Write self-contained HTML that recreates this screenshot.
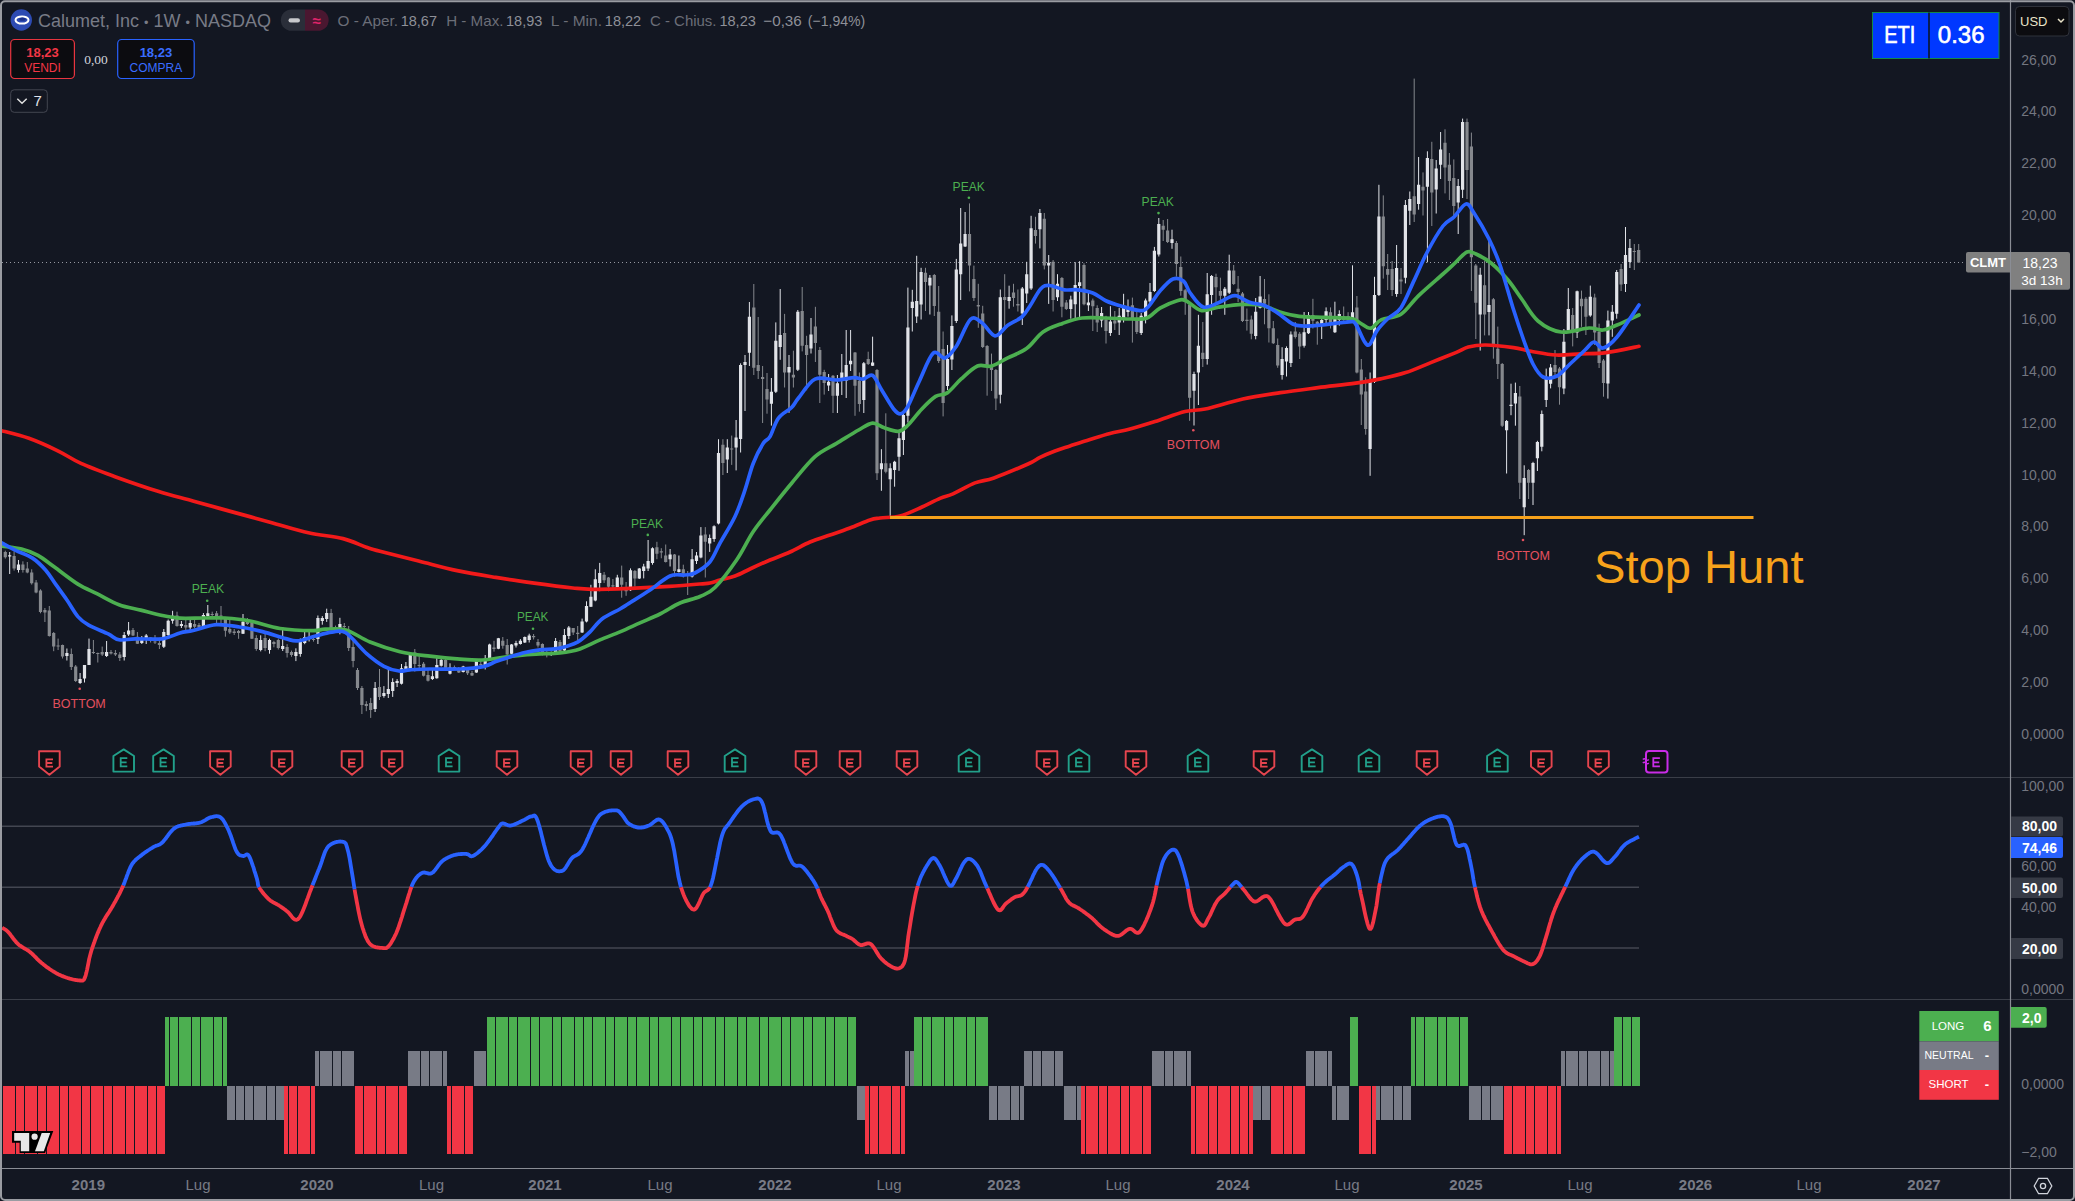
<!DOCTYPE html>
<html><head><meta charset="utf-8"><title>CLMT chart</title>
<style>
html,body{margin:0;padding:0;background:#131722;}
body{width:2075px;height:1201px;overflow:hidden;position:relative;font-family:"Liberation Sans", sans-serif;}
svg{position:absolute;left:0;top:0;display:block;}
text{font-family:"Liberation Sans", sans-serif;}
</style></head><body>
<svg width="2075" height="1201" viewBox="0 0 2075 1201">
<rect x="0" y="0" width="2075" height="1201" fill="#131722"/>

<defs><clipPath id="cp"><rect x="2" y="3" width="2008" height="774"/></clipPath><clipPath id="co"><rect x="2" y="778" width="2008" height="221"/></clipPath><clipPath id="ch"><rect x="2" y="1000" width="2008" height="168"/></clipPath></defs>
<line x1="2" y1="262.5" x2="1966" y2="262.5" stroke="#9598a1" stroke-width="1" stroke-dasharray="1,3"/>
<path d="M39.1,751.3 h20.6 v15.2 l-10.3,8.2 l-10.3,-8.2 Z" fill="#0f0f13" stroke="#e5454f" stroke-width="1.9" stroke-linejoin="round"/>
<path d="M47.3,759.4 H53.0 M46.4,758.5 V766.6 H53.0 M46.4,763.0 H52.3" fill="none" stroke="#e5454f" stroke-width="1.8"/>
<path d="M113.4,771.6 h20.6 v-15.6 l-10.3,-6.6 l-10.3,6.6 Z" fill="#0f0f13" stroke="#22a08a" stroke-width="1.9" stroke-linejoin="round"/>
<path d="M121.6,758.2 H127.3 M120.7,757.3 V766.4 H127.3 M120.7,762.3 H126.6" fill="none" stroke="#22a08a" stroke-width="1.8"/>
<path d="M153.2,771.6 h20.6 v-15.6 l-10.3,-6.6 l-10.3,6.6 Z" fill="#0f0f13" stroke="#22a08a" stroke-width="1.9" stroke-linejoin="round"/>
<path d="M161.4,758.2 H167.1 M160.5,757.3 V766.4 H167.1 M160.5,762.3 H166.4" fill="none" stroke="#22a08a" stroke-width="1.8"/>
<path d="M210.1,751.3 h20.6 v15.2 l-10.3,8.2 l-10.3,-8.2 Z" fill="#0f0f13" stroke="#e5454f" stroke-width="1.9" stroke-linejoin="round"/>
<path d="M218.3,759.4 H224.0 M217.4,758.5 V766.6 H224.0 M217.4,763.0 H223.3" fill="none" stroke="#e5454f" stroke-width="1.8"/>
<path d="M271.7,751.3 h20.6 v15.2 l-10.3,8.2 l-10.3,-8.2 Z" fill="#0f0f13" stroke="#e5454f" stroke-width="1.9" stroke-linejoin="round"/>
<path d="M279.9,759.4 H285.6 M279.0,758.5 V766.6 H285.6 M279.0,763.0 H284.9" fill="none" stroke="#e5454f" stroke-width="1.8"/>
<path d="M341.7,751.3 h20.6 v15.2 l-10.3,8.2 l-10.3,-8.2 Z" fill="#0f0f13" stroke="#e5454f" stroke-width="1.9" stroke-linejoin="round"/>
<path d="M349.9,759.4 H355.6 M349.0,758.5 V766.6 H355.6 M349.0,763.0 H354.9" fill="none" stroke="#e5454f" stroke-width="1.8"/>
<path d="M381.7,751.3 h20.6 v15.2 l-10.3,8.2 l-10.3,-8.2 Z" fill="#0f0f13" stroke="#e5454f" stroke-width="1.9" stroke-linejoin="round"/>
<path d="M389.9,759.4 H395.6 M389.0,758.5 V766.6 H395.6 M389.0,763.0 H394.9" fill="none" stroke="#e5454f" stroke-width="1.8"/>
<path d="M438.7,771.6 h20.6 v-15.6 l-10.3,-6.6 l-10.3,6.6 Z" fill="#0f0f13" stroke="#22a08a" stroke-width="1.9" stroke-linejoin="round"/>
<path d="M446.9,758.2 H452.6 M446.0,757.3 V766.4 H452.6 M446.0,762.3 H451.9" fill="none" stroke="#22a08a" stroke-width="1.8"/>
<path d="M496.7,751.3 h20.6 v15.2 l-10.3,8.2 l-10.3,-8.2 Z" fill="#0f0f13" stroke="#e5454f" stroke-width="1.9" stroke-linejoin="round"/>
<path d="M504.9,759.4 H510.6 M504.0,758.5 V766.6 H510.6 M504.0,763.0 H509.9" fill="none" stroke="#e5454f" stroke-width="1.8"/>
<path d="M570.7,751.3 h20.6 v15.2 l-10.3,8.2 l-10.3,-8.2 Z" fill="#0f0f13" stroke="#e5454f" stroke-width="1.9" stroke-linejoin="round"/>
<path d="M578.9,759.4 H584.6 M578.0,758.5 V766.6 H584.6 M578.0,763.0 H583.9" fill="none" stroke="#e5454f" stroke-width="1.8"/>
<path d="M610.7,751.3 h20.6 v15.2 l-10.3,8.2 l-10.3,-8.2 Z" fill="#0f0f13" stroke="#e5454f" stroke-width="1.9" stroke-linejoin="round"/>
<path d="M618.9,759.4 H624.6 M618.0,758.5 V766.6 H624.6 M618.0,763.0 H623.9" fill="none" stroke="#e5454f" stroke-width="1.8"/>
<path d="M667.7,751.3 h20.6 v15.2 l-10.3,8.2 l-10.3,-8.2 Z" fill="#0f0f13" stroke="#e5454f" stroke-width="1.9" stroke-linejoin="round"/>
<path d="M675.9,759.4 H681.6 M675.0,758.5 V766.6 H681.6 M675.0,763.0 H680.9" fill="none" stroke="#e5454f" stroke-width="1.8"/>
<path d="M724.7,771.6 h20.6 v-15.6 l-10.3,-6.6 l-10.3,6.6 Z" fill="#0f0f13" stroke="#22a08a" stroke-width="1.9" stroke-linejoin="round"/>
<path d="M732.9,758.2 H738.6 M732.0,757.3 V766.4 H738.6 M732.0,762.3 H737.9" fill="none" stroke="#22a08a" stroke-width="1.8"/>
<path d="M795.7,751.3 h20.6 v15.2 l-10.3,8.2 l-10.3,-8.2 Z" fill="#0f0f13" stroke="#e5454f" stroke-width="1.9" stroke-linejoin="round"/>
<path d="M803.9,759.4 H809.6 M803.0,758.5 V766.6 H809.6 M803.0,763.0 H808.9" fill="none" stroke="#e5454f" stroke-width="1.8"/>
<path d="M839.7,751.3 h20.6 v15.2 l-10.3,8.2 l-10.3,-8.2 Z" fill="#0f0f13" stroke="#e5454f" stroke-width="1.9" stroke-linejoin="round"/>
<path d="M847.9,759.4 H853.6 M847.0,758.5 V766.6 H853.6 M847.0,763.0 H852.9" fill="none" stroke="#e5454f" stroke-width="1.8"/>
<path d="M896.7,751.3 h20.6 v15.2 l-10.3,8.2 l-10.3,-8.2 Z" fill="#0f0f13" stroke="#e5454f" stroke-width="1.9" stroke-linejoin="round"/>
<path d="M904.9,759.4 H910.6 M904.0,758.5 V766.6 H910.6 M904.0,763.0 H909.9" fill="none" stroke="#e5454f" stroke-width="1.8"/>
<path d="M958.7,771.6 h20.6 v-15.6 l-10.3,-6.6 l-10.3,6.6 Z" fill="#0f0f13" stroke="#22a08a" stroke-width="1.9" stroke-linejoin="round"/>
<path d="M966.9,758.2 H972.6 M966.0,757.3 V766.4 H972.6 M966.0,762.3 H971.9" fill="none" stroke="#22a08a" stroke-width="1.8"/>
<path d="M1036.7,751.3 h20.6 v15.2 l-10.3,8.2 l-10.3,-8.2 Z" fill="#0f0f13" stroke="#e5454f" stroke-width="1.9" stroke-linejoin="round"/>
<path d="M1044.9,759.4 H1050.6 M1044.0,758.5 V766.6 H1050.6 M1044.0,763.0 H1049.9" fill="none" stroke="#e5454f" stroke-width="1.8"/>
<path d="M1068.7,771.6 h20.6 v-15.6 l-10.3,-6.6 l-10.3,6.6 Z" fill="#0f0f13" stroke="#22a08a" stroke-width="1.9" stroke-linejoin="round"/>
<path d="M1076.9,758.2 H1082.6 M1076.0,757.3 V766.4 H1082.6 M1076.0,762.3 H1081.9" fill="none" stroke="#22a08a" stroke-width="1.8"/>
<path d="M1125.7,751.3 h20.6 v15.2 l-10.3,8.2 l-10.3,-8.2 Z" fill="#0f0f13" stroke="#e5454f" stroke-width="1.9" stroke-linejoin="round"/>
<path d="M1133.9,759.4 H1139.6 M1133.0,758.5 V766.6 H1139.6 M1133.0,763.0 H1138.9" fill="none" stroke="#e5454f" stroke-width="1.8"/>
<path d="M1187.7,771.6 h20.6 v-15.6 l-10.3,-6.6 l-10.3,6.6 Z" fill="#0f0f13" stroke="#22a08a" stroke-width="1.9" stroke-linejoin="round"/>
<path d="M1195.9,758.2 H1201.6 M1195.0,757.3 V766.4 H1201.6 M1195.0,762.3 H1200.9" fill="none" stroke="#22a08a" stroke-width="1.8"/>
<path d="M1253.7,751.3 h20.6 v15.2 l-10.3,8.2 l-10.3,-8.2 Z" fill="#0f0f13" stroke="#e5454f" stroke-width="1.9" stroke-linejoin="round"/>
<path d="M1261.9,759.4 H1267.6 M1261.0,758.5 V766.6 H1267.6 M1261.0,763.0 H1266.9" fill="none" stroke="#e5454f" stroke-width="1.8"/>
<path d="M1301.7,771.6 h20.6 v-15.6 l-10.3,-6.6 l-10.3,6.6 Z" fill="#0f0f13" stroke="#22a08a" stroke-width="1.9" stroke-linejoin="round"/>
<path d="M1309.9,758.2 H1315.6 M1309.0,757.3 V766.4 H1315.6 M1309.0,762.3 H1314.9" fill="none" stroke="#22a08a" stroke-width="1.8"/>
<path d="M1358.7,771.6 h20.6 v-15.6 l-10.3,-6.6 l-10.3,6.6 Z" fill="#0f0f13" stroke="#22a08a" stroke-width="1.9" stroke-linejoin="round"/>
<path d="M1366.9,758.2 H1372.6 M1366.0,757.3 V766.4 H1372.6 M1366.0,762.3 H1371.9" fill="none" stroke="#22a08a" stroke-width="1.8"/>
<path d="M1416.7,751.3 h20.6 v15.2 l-10.3,8.2 l-10.3,-8.2 Z" fill="#0f0f13" stroke="#e5454f" stroke-width="1.9" stroke-linejoin="round"/>
<path d="M1424.9,759.4 H1430.6 M1424.0,758.5 V766.6 H1430.6 M1424.0,763.0 H1429.9" fill="none" stroke="#e5454f" stroke-width="1.8"/>
<path d="M1487.1,771.6 h20.6 v-15.6 l-10.3,-6.6 l-10.3,6.6 Z" fill="#0f0f13" stroke="#22a08a" stroke-width="1.9" stroke-linejoin="round"/>
<path d="M1495.3,758.2 H1501.0 M1494.4,757.3 V766.4 H1501.0 M1494.4,762.3 H1500.3" fill="none" stroke="#22a08a" stroke-width="1.8"/>
<path d="M1531.0,751.3 h20.6 v15.2 l-10.3,8.2 l-10.3,-8.2 Z" fill="#0f0f13" stroke="#e5454f" stroke-width="1.9" stroke-linejoin="round"/>
<path d="M1539.2,759.4 H1544.9 M1538.3,758.5 V766.6 H1544.9 M1538.3,763.0 H1544.2" fill="none" stroke="#e5454f" stroke-width="1.8"/>
<path d="M1588.2,751.3 h20.6 v15.2 l-10.3,8.2 l-10.3,-8.2 Z" fill="#0f0f13" stroke="#e5454f" stroke-width="1.9" stroke-linejoin="round"/>
<path d="M1596.4,759.4 H1602.1 M1595.5,758.5 V766.6 H1602.1 M1595.5,763.0 H1601.4" fill="none" stroke="#e5454f" stroke-width="1.8"/>
<rect x="1646.0" y="751" width="21.5" height="21.5" rx="3" fill="#0f0f13" stroke="#c92ce6" stroke-width="2"/>
<path d="M1642.8,759.6 q1.5,-1.5 3,0 t3,0 M1642.8,763 q1.5,-1.5 3,0 t3,0" fill="none" stroke="#c92ce6" stroke-width="1.4"/>
<path d="M1654.2,758.2 H1659.9 M1653.3,757.3 V766.4 H1659.9 M1653.3,762.3 H1659.2" fill="none" stroke="#c92ce6" stroke-width="1.8"/>
<g clip-path="url(#cp)">
<path d="M5.3,550.7V558.6M14.1,551.3V570.6M22.9,561.3V572.6M27.3,562.0V573.3M31.7,569.3V584.6M36.1,580.0V593.3M40.5,589.3V613.3M44.9,608.0V622.0M49.3,606.0V636.6M53.7,632.0V651.2M58.1,638.6V650.0M62.5,644.6V658.5M71.3,648.5V670.0M75.7,665.0V682.0M93.4,640.0V654.0M97.8,652.6V662.5M102.2,646.6V656.0M111.0,650.0V654.5M115.4,650.0V656.0M119.8,652.0V661.0M133.0,628.0V636.0M137.4,632.0V644.0M150.6,637.5V642.5M155.0,635.0V644.0M159.4,641.0V649.0M177.0,611.7V626.7M185.8,619.0V630.5M194.6,620.0V628.5M199.0,623.0V628.5M212.2,611.7V616.7M216.6,611.0V623.3M221.0,606.0V625.0M225.4,618.0V636.7M229.8,620.0V634.0M234.2,629.0V635.0M238.6,630.0V638.8M247.4,618.0V625.0M251.9,620.0V639.0M256.3,635.2V650.8M265.1,633.8V651.2M273.9,640.8V647.3M278.3,638.6V649.5M287.1,644.2V657.5M291.5,650.6V656.8M313.5,637.3V641.6M331.1,608.9V629.4M335.5,625.6V630.4M344.3,623.0V631.8M348.7,626.0V651.0M353.1,639.9V667.3M357.5,668.0V690.0M361.9,686.0V714.0M366.3,701.2V711.2M370.7,697.9V717.9M379.5,669.0V700.0M414.8,649.0V671.6M419.2,655.0V669.0M423.6,662.0V676.5M428.0,670.0V681.5M445.6,658.7V670.8M454.4,665.5V669.5M458.8,667.0V673.0M467.6,667.0V675.0M472.0,671.0V676.0M480.8,659.0V665.8M494.0,640.8V651.6M502.8,637.0V648.7M507.2,639.0V664.5M533.6,634.0V639.5M538.0,639.0V647.5M542.4,643.3V655.4M546.8,648.0V657.4M560.0,640.0V652.0M573.2,628.0V635.0M577.7,626.0V640.0M604.1,572.0V583.0M608.5,577.0V591.2M612.9,579.0V590.0M621.7,565.6V597.7M626.1,582.0V595.8M634.9,570.0V586.7M656.9,541.8V559.2M661.3,548.2V558.3M665.7,544.5V562.5M674.5,554.0V576.6M683.3,564.7V577.5M687.7,571.0V595.0M705.3,527.1V577.5M722.9,439.2V475.0M731.7,435.6V464.9M753.8,284.0V375.0M758.2,317.0V379.0M762.6,366.0V423.0M767.0,373.0V413.7M784.6,313.9V387.5M793.4,350.7V387.5M802.2,287.0V351.4M806.6,335.8V390.3M815.4,306.8V362.0M819.8,347.0V403.0M824.2,369.8V394.6M833.0,375.0V413.0M855.0,352.0V415.8M859.4,372.5V411.7M868.2,351.7V365.0M877.0,369.0V480.0M885.8,413.3V473.3M925.5,267.8V311.0M934.3,274.0V316.0M938.7,286.0V363.0M943.1,331.5V416.4M969.5,203.4V291.4M973.9,265.6V301.0M978.3,283.8V327.8M982.7,305.8V348.0M987.1,345.0V395.7M991.5,353.6V391.0M995.9,369.0V410.0M1004.7,274.2V325.9M1013.5,283.8V306.7M1017.9,289.5V311.5M1035.5,216.8V243.6M1044.3,213.0V269.4M1053.1,260.0V311.5M1061.9,277.0V317.3M1066.3,300.0V310.0M1084.0,263.2V305.3M1092.8,298.6V331.0M1097.2,305.3V332.0M1106.0,315.8V343.5M1114.8,311.0V330.0M1132.4,297.6V342.6M1136.8,310.0V334.0M1163.2,220.0V241.0M1167.6,219.0V243.0M1176.4,241.0V276.6M1180.8,256.5V295.7M1185.2,289.0V314.8M1189.6,303.0V420.8M1202.8,322.0V367.0M1216.0,273.7V302.0M1220.4,277.7V301.4M1233.7,265.0V285.0M1238.1,276.0V302.0M1242.5,292.0V322.0M1246.9,308.5V330.6M1251.3,315.6V339.3M1264.5,279.0V324.3M1268.9,294.3V342.5M1273.3,321.0V344.0M1277.7,338.5V367.8M1295.3,322.0V338.5M1299.7,332.0V359.0M1312.9,298.8V328.5M1317.3,321.0V344.7M1330.5,307.4V328.5M1343.7,306.5V320.8M1348.1,312.2V321.8M1356.9,296.0V373.4M1361.3,359.0V425.0M1365.7,377.3V434.7M1383.3,195.4V278.6M1387.7,254.0V290.0M1392.1,261.0V296.0M1401.0,268.0V294.0M1414.2,78.6V222.0M1423.0,172.4V215.5M1431.8,141.8V226.0M1445.0,129.3V193.4M1449.4,153.0V200.0M1453.8,159.4V216.6M1467.0,118.6V199.0M1471.4,132.6V291.0M1475.8,264.0V339.0M1484.6,260.8V335.4M1493.4,298.0V358.7M1497.8,326.6V379.0M1502.2,363.0V427.0M1519.8,386.0V499.0M1528.6,469.0V499.0M1555.0,350.0V376.7M1559.5,367.0V404.7M1572.7,308.0V346.4M1581.5,290.6V326.8M1585.9,297.0V335.0M1594.7,293.7V345.0M1599.1,323.7V368.0M1603.5,359.0V396.7M1621.1,264.0V291.0M1634.3,244.0V270.0M1638.7,244.0V263.0" stroke="#85888d" stroke-width="1" fill="none"/>
<path d="M3.7,552.0h3.2V557.3h-3.2ZM12.5,556.0h3.2V568.6h-3.2ZM21.3,564.6h3.2V570.0h-3.2ZM25.7,568.6h3.2V572.6h-3.2ZM30.1,572.6h3.2V583.3h-3.2ZM34.5,582.6h3.2V592.6h-3.2ZM38.9,590.6h3.2V612.0h-3.2ZM43.3,610.0h3.2V612.6h-3.2ZM47.7,610.6h3.2V636.0h-3.2ZM52.1,633.0h3.2V646.6h-3.2ZM56.5,645.4h3.2V646.6h-3.2ZM60.9,645.0h3.2V656.5h-3.2ZM69.7,654.0h3.2V667.0h-3.2ZM74.1,666.5h3.2V681.0h-3.2ZM91.8,651.9h3.2V653.1h-3.2ZM96.2,652.9h3.2V654.1h-3.2ZM100.6,652.0h3.2V654.5h-3.2ZM109.4,652.0h3.2V653.5h-3.2ZM113.8,653.0h3.2V654.5h-3.2ZM118.2,654.5h3.2V658.0h-3.2ZM131.4,630.0h3.2V635.4h-3.2ZM135.8,636.7h3.2V643.7h-3.2ZM149.0,637.5h3.2V640.8h-3.2ZM153.4,641.4h3.2V642.6h-3.2ZM157.8,643.0h3.2V645.0h-3.2ZM175.4,615.4h3.2V626.0h-3.2ZM184.2,625.0h3.2V627.5h-3.2ZM193.0,624.0h3.2V626.7h-3.2ZM197.4,625.0h3.2V627.5h-3.2ZM210.6,613.9h3.2V615.1h-3.2ZM215.0,613.3h3.2V616.0h-3.2ZM219.4,615.4h3.2V616.6h-3.2ZM223.8,618.3h3.2V630.8h-3.2ZM228.2,629.0h3.2V632.5h-3.2ZM232.6,631.5h3.2V633.0h-3.2ZM237.0,631.0h3.2V633.0h-3.2ZM245.8,619.0h3.2V624.0h-3.2ZM250.3,622.5h3.2V638.8h-3.2ZM254.7,638.0h3.2V649.0h-3.2ZM263.5,638.0h3.2V648.0h-3.2ZM272.3,642.0h3.2V644.0h-3.2ZM276.7,640.0h3.2V648.0h-3.2ZM285.5,647.0h3.2V653.0h-3.2ZM289.9,652.0h3.2V655.0h-3.2ZM311.9,638.9h3.2V640.1h-3.2ZM329.5,613.0h3.2V628.0h-3.2ZM333.9,626.9h3.2V628.1h-3.2ZM342.7,625.9h3.2V627.1h-3.2ZM347.1,630.0h3.2V648.0h-3.2ZM351.5,647.0h3.2V661.0h-3.2ZM355.9,670.0h3.2V688.0h-3.2ZM360.3,688.0h3.2V705.0h-3.2ZM364.7,704.0h3.2V706.0h-3.2ZM369.1,703.0h3.2V710.0h-3.2ZM377.9,687.0h3.2V697.0h-3.2ZM413.2,652.5h3.2V664.1h-3.2ZM417.6,664.9h3.2V666.1h-3.2ZM422.0,663.7h3.2V675.8h-3.2ZM426.4,675.0h3.2V680.8h-3.2ZM444.0,660.0h3.2V670.3h-3.2ZM452.8,667.0h3.2V669.0h-3.2ZM457.2,667.9h3.2V672.4h-3.2ZM466.0,668.3h3.2V673.3h-3.2ZM470.4,672.9h3.2V675.4h-3.2ZM479.2,663.9h3.2V665.1h-3.2ZM492.4,647.5h3.2V649.1h-3.2ZM501.2,640.8h3.2V645.8h-3.2ZM505.6,645.0h3.2V654.5h-3.2ZM532.0,636.0h3.2V637.2h-3.2ZM536.4,642.0h3.2V645.4h-3.2ZM540.8,644.1h3.2V655.0h-3.2ZM545.2,651.9h3.2V653.1h-3.2ZM558.4,641.9h3.2V650.9h-3.2ZM571.6,628.0h3.2V632.5h-3.2ZM576.1,632.8h3.2V634.0h-3.2ZM602.5,574.8h3.2V580.3h-3.2ZM606.9,577.5h3.2V586.7h-3.2ZM611.3,585.2h3.2V586.4h-3.2ZM620.1,577.5h3.2V584.8h-3.2ZM624.5,588.5h3.2V591.2h-3.2ZM633.3,571.1h3.2V578.4h-3.2ZM655.3,547.3h3.2V553.7h-3.2ZM659.7,551.3h3.2V552.5h-3.2ZM664.1,555.5h3.2V562.0h-3.2ZM672.9,554.6h3.2V571.0h-3.2ZM681.7,569.3h3.2V573.8h-3.2ZM686.1,574.2h3.2V575.4h-3.2ZM703.7,534.5h3.2V541.8h-3.2ZM721.3,444.7h3.2V463.0h-3.2ZM730.1,448.4h3.2V449.6h-3.2ZM752.2,307.5h3.2V367.7h-3.2ZM756.6,365.0h3.2V371.0h-3.2ZM761.0,377.0h3.2V379.0h-3.2ZM765.4,389.0h3.2V399.6h-3.2ZM783.0,333.0h3.2V372.6h-3.2ZM791.8,374.7h3.2V377.6h-3.2ZM800.6,311.0h3.2V345.7h-3.2ZM805.0,345.0h3.2V355.0h-3.2ZM813.8,326.6h3.2V342.9h-3.2ZM818.2,350.0h3.2V374.7h-3.2ZM822.6,372.0h3.2V383.0h-3.2ZM831.4,375.8h3.2V395.8h-3.2ZM853.4,352.5h3.2V385.8h-3.2ZM857.8,380.8h3.2V404.0h-3.2ZM866.6,359.0h3.2V364.0h-3.2ZM875.4,370.0h3.2V473.3h-3.2ZM884.2,463.3h3.2V471.7h-3.2ZM923.9,272.8h3.2V282.0h-3.2ZM932.7,275.0h3.2V306.0h-3.2ZM937.1,311.7h3.2V361.0h-3.2ZM941.5,349.0h3.2V403.0h-3.2ZM967.9,234.0h3.2V265.6h-3.2ZM972.3,279.0h3.2V298.0h-3.2ZM976.7,305.0h3.2V306.5h-3.2ZM981.1,313.4h3.2V347.0h-3.2ZM985.5,346.0h3.2V367.0h-3.2ZM989.9,366.0h3.2V370.0h-3.2ZM994.3,370.0h3.2V398.6h-3.2ZM1003.1,297.0h3.2V300.0h-3.2ZM1011.9,292.4h3.2V298.0h-3.2ZM1016.3,304.0h3.2V305.5h-3.2ZM1033.9,230.0h3.2V236.0h-3.2ZM1042.7,218.7h3.2V265.6h-3.2ZM1051.5,261.8h3.2V300.0h-3.2ZM1060.3,278.0h3.2V306.7h-3.2ZM1064.7,302.4h3.2V309.0h-3.2ZM1082.4,265.0h3.2V304.3h-3.2ZM1091.2,300.5h3.2V306.2h-3.2ZM1095.6,308.0h3.2V322.5h-3.2ZM1104.4,319.6h3.2V331.0h-3.2ZM1113.2,320.6h3.2V323.4h-3.2ZM1130.8,305.3h3.2V319.6h-3.2ZM1135.2,319.6h3.2V332.0h-3.2ZM1161.6,225.8h3.2V229.7h-3.2ZM1166.0,230.6h3.2V242.0h-3.2ZM1174.8,243.0h3.2V264.0h-3.2ZM1179.2,267.0h3.2V291.0h-3.2ZM1183.6,290.3h3.2V302.0h-3.2ZM1188.0,304.5h3.2V397.8h-3.2ZM1201.2,352.8h3.2V359.0h-3.2ZM1214.4,276.9h3.2V287.2h-3.2ZM1218.8,291.0h3.2V295.8h-3.2ZM1232.1,270.6h3.2V284.0h-3.2ZM1236.5,288.7h3.2V292.0h-3.2ZM1240.9,293.5h3.2V321.0h-3.2ZM1245.3,319.8h3.2V321.0h-3.2ZM1249.7,319.6h3.2V333.8h-3.2ZM1262.9,299.0h3.2V303.8h-3.2ZM1267.3,310.0h3.2V328.3h-3.2ZM1271.7,328.3h3.2V343.3h-3.2ZM1276.1,345.0h3.2V365.4h-3.2ZM1293.7,331.4h3.2V337.0h-3.2ZM1298.1,333.8h3.2V346.4h-3.2ZM1311.3,315.0h3.2V320.8h-3.2ZM1315.7,321.8h3.2V324.6h-3.2ZM1328.9,312.2h3.2V324.6h-3.2ZM1342.1,316.0h3.2V320.0h-3.2ZM1346.5,316.0h3.2V320.8h-3.2ZM1355.3,307.4h3.2V372.5h-3.2ZM1359.7,369.6h3.2V394.5h-3.2ZM1364.1,391.6h3.2V429.0h-3.2ZM1381.7,216.4h3.2V266.2h-3.2ZM1386.1,269.0h3.2V274.8h-3.2ZM1390.5,269.0h3.2V290.0h-3.2ZM1399.4,279.5h3.2V281.5h-3.2ZM1412.6,196.3h3.2V214.5h-3.2ZM1421.4,186.7h3.2V190.6h-3.2ZM1430.2,159.0h3.2V192.5h-3.2ZM1443.4,142.7h3.2V167.6h-3.2ZM1447.8,164.7h3.2V181.0h-3.2ZM1452.2,178.0h3.2V206.0h-3.2ZM1465.4,122.0h3.2V170.0h-3.2ZM1469.8,146.6h3.2V257.3h-3.2ZM1474.2,265.5h3.2V302.8h-3.2ZM1483.0,285.3h3.2V314.5h-3.2ZM1491.8,299.3h3.2V347.0h-3.2ZM1496.2,348.8h3.2V364.0h-3.2ZM1500.6,364.0h3.2V425.7h-3.2ZM1518.2,396.5h3.2V482.8h-3.2ZM1527.0,470.0h3.2V482.8h-3.2ZM1553.4,365.0h3.2V372.0h-3.2ZM1557.9,368.6h3.2V387.2h-3.2ZM1571.1,315.0h3.2V330.0h-3.2ZM1579.9,298.7h3.2V306.2h-3.2ZM1584.3,298.7h3.2V316.8h-3.2ZM1593.1,297.5h3.2V332.4h-3.2ZM1597.5,331.8h3.2V363.0h-3.2ZM1601.9,360.5h3.2V383.0h-3.2ZM1619.5,269.0h3.2V284.5h-3.2ZM1632.7,250.9h3.2V252.1h-3.2ZM1637.1,250.0h3.2V262.5h-3.2Z" fill="#85888d"/>
<path d="M9.7,552.0V574.0M18.5,560.0V572.6M66.9,648.5V660.5M80.1,673.0V684.0M84.5,665.0V682.5M89.0,638.6V665.0M106.6,641.0V657.0M124.2,632.0V660.5M128.6,622.0V636.0M141.8,636.0V644.0M146.2,634.0V644.0M163.8,629.0V648.0M168.2,619.5V636.0M172.6,610.8V623.7M181.4,621.0V628.0M190.2,619.0V630.0M203.4,613.0V629.0M207.8,605.0V616.5M243.0,614.0V634.0M260.7,635.3V651.4M269.5,638.7V653.7M282.7,627.0V651.0M295.9,648.3V661.1M300.3,638.5V656.7M304.7,631.8V644.2M309.1,631.7V641.5M317.9,615.5V644.0M322.3,616.1V624.7M326.7,608.7V621.9M339.9,617.8V634.3M375.1,682.0V712.0M383.9,686.1V697.7M388.3,669.0V698.0M392.7,678.3V696.9M397.1,679.1V687.0M401.5,664.0V684.5M405.9,662.0V670.8M410.3,652.5V669.5M432.4,669.0V680.0M436.8,657.5V678.7M441.2,656.2V666.6M450.0,663.3V674.5M463.2,665.8V672.5M476.4,659.0V672.9M485.2,655.0V669.5M489.6,643.7V660.0M498.4,637.9V649.2M511.6,644.0V654.2M516.0,640.8V647.5M520.4,639.1V644.6M524.8,636.5V643.0M529.2,633.7V642.5M551.2,651.5V656.0M555.6,638.0V653.0M564.4,629.0V651.0M568.8,626.0V639.0M582.1,618.6V633.0M586.5,601.3V622.4M590.9,584.8V607.0M595.3,569.3V601.3M599.7,562.9V591.2M617.3,574.8V588.5M630.5,568.4V591.0M639.3,568.0V579.0M643.7,563.8V578.4M648.1,540.0V571.0M652.5,547.3V564.7M670.1,549.0V566.5M678.9,555.5V572.5M692.1,549.0V577.5M696.5,552.0V564.0M700.9,527.1V558.3M709.7,534.5V551.9M714.1,525.3V541.8M718.5,439.2V524.4M727.3,439.2V473.0M736.1,420.0V470.4M740.6,363.3V452.5M745.0,355.0V411.0M749.4,302.0V366.0M771.4,378.0V425.6M775.8,322.4V393.0M780.2,289.0V359.8M789.0,355.0V412.8M797.8,310.0V371.0M811.0,318.0V353.5M828.6,374.0V391.0M837.4,375.0V413.0M841.8,354.0V395.0M846.2,330.0V398.0M850.6,330.0V371.0M863.8,362.0V413.0M872.6,336.7V366.0M881.4,449.2V490.8M890.2,463.3V516.7M894.6,460.8V486.7M899.0,432.5V470.8M903.4,414.0V455.0M907.9,287.6V422.5M912.3,289.8V331.5M916.7,255.8V323.0M921.1,267.8V319.5M929.9,275.0V314.5M947.5,345.0V390.0M951.9,315.4V370.0M956.3,258.9V323.0M960.7,208.0V300.0M965.1,212.0V247.0M1000.3,289.5V403.4M1009.1,285.7V308.7M1022.3,287.0V325.0M1026.7,261.8V303.0M1031.1,215.8V290.0M1039.9,209.0V248.4M1048.7,255.0V303.9M1057.5,274.2V301.0M1070.8,295.7V318.7M1075.2,262.2V318.7M1079.6,261.2V318.7M1088.4,290.0V311.0M1101.6,307.0V327.3M1110.4,306.2V335.9M1119.2,308.0V335.0M1123.6,293.8V322.5M1128.0,299.5V316.7M1141.2,313.0V335.0M1145.6,298.6V323.4M1150.0,283.0V303.3M1154.4,246.9V292.0M1158.8,218.0V256.5M1172.0,229.7V248.8M1194.0,371.7V425.5M1198.4,314.8V405.0M1207.2,273.0V364.6M1211.6,275.0V314.8M1224.8,287.0V314.8M1229.2,254.7V294.0M1255.7,298.0V339.3M1260.1,276.0V308.5M1282.1,347.2V379.6M1286.5,346.4V376.5M1290.9,331.4V367.0M1304.1,312.0V347.6M1308.5,312.0V334.0M1321.7,319.0V339.0M1326.1,307.4V325.6M1334.9,301.7V333.0M1339.3,310.3V325.6M1352.5,265.3V320.8M1370.1,372.5V475.8M1374.5,276.8V383.0M1378.9,184.8V296.0M1396.6,245.0V296.8M1405.4,200.0V283.4M1409.8,191.5V225.0M1418.6,157.0V209.7M1427.4,151.3V262.3M1436.2,160.0V213.5M1440.6,132.0V179.0M1458.2,179.0V234.0M1462.6,118.6V198.0M1480.2,267.8V350.6M1489.0,237.5V335.4M1506.6,420.0V473.5M1511.0,383.7V415.2M1515.4,382.6V425.7M1524.2,465.3V535.2M1533.0,461.8V505.0M1537.4,440.8V471.0M1541.8,410.5V451.3M1546.2,368.6V407.0M1550.6,364.0V388.4M1563.9,329.0V394.2M1568.3,288.0V331.3M1577.1,290.6V338.0M1590.3,285.6V316.8M1607.9,310.6V398.6M1612.3,305.0V336.8M1616.7,270.0V318.7M1625.5,227.0V292.0M1629.9,239.0V268.0" stroke="#e1e3e8" stroke-width="1" fill="none"/>
<path d="M8.1,555.3h3.2V556.6h-3.2ZM16.9,564.6h3.2V570.0h-3.2ZM65.3,653.0h3.2V656.0h-3.2ZM78.5,679.0h3.2V683.0h-3.2ZM82.9,665.0h3.2V678.5h-3.2ZM87.4,649.0h3.2V665.0h-3.2ZM105.0,652.0h3.2V656.0h-3.2ZM122.6,635.0h3.2V657.0h-3.2ZM127.0,630.6h3.2V634.6h-3.2ZM140.2,638.3h3.2V643.0h-3.2ZM144.6,635.4h3.2V639.6h-3.2ZM162.2,632.0h3.2V646.7h-3.2ZM166.6,620.8h3.2V635.0h-3.2ZM171.0,615.8h3.2V620.8h-3.2ZM179.8,624.0h3.2V626.0h-3.2ZM188.6,623.0h3.2V627.5h-3.2ZM201.8,615.0h3.2V628.0h-3.2ZM206.2,613.3h3.2V616.0h-3.2ZM241.4,621.7h3.2V633.8h-3.2ZM259.1,640.0h3.2V650.0h-3.2ZM267.9,640.0h3.2V650.0h-3.2ZM281.1,646.0h3.2V649.0h-3.2ZM294.3,652.0h3.2V656.0h-3.2ZM298.7,642.0h3.2V654.0h-3.2ZM303.1,637.0h3.2V643.0h-3.2ZM307.5,637.0h3.2V639.0h-3.2ZM316.3,618.0h3.2V639.0h-3.2ZM320.7,618.0h3.2V621.0h-3.2ZM325.1,613.0h3.2V619.0h-3.2ZM338.3,624.0h3.2V630.0h-3.2ZM373.5,688.0h3.2V709.0h-3.2ZM382.3,693.0h3.2V696.0h-3.2ZM386.7,689.0h3.2V694.0h-3.2ZM391.1,682.0h3.2V691.0h-3.2ZM395.5,681.0h3.2V683.0h-3.2ZM399.9,668.3h3.2V683.7h-3.2ZM404.3,666.2h3.2V669.1h-3.2ZM408.7,653.7h3.2V668.7h-3.2ZM430.8,676.2h3.2V679.1h-3.2ZM435.2,665.0h3.2V678.3h-3.2ZM439.6,660.0h3.2V665.8h-3.2ZM448.4,667.4h3.2V673.7h-3.2ZM461.6,666.6h3.2V672.0h-3.2ZM474.8,660.0h3.2V672.4h-3.2ZM483.6,660.8h3.2V666.6h-3.2ZM488.0,644.5h3.2V658.3h-3.2ZM496.8,638.3h3.2V648.7h-3.2ZM510.0,644.5h3.2V653.7h-3.2ZM514.4,642.9h3.2V645.4h-3.2ZM518.8,640.8h3.2V644.1h-3.2ZM523.2,637.0h3.2V642.5h-3.2ZM527.6,635.4h3.2V640.0h-3.2ZM549.6,652.4h3.2V654.0h-3.2ZM554.0,640.9h3.2V652.4h-3.2ZM562.8,635.0h3.2V650.4h-3.2ZM567.2,627.4h3.2V636.0h-3.2ZM580.5,621.5h3.2V632.5h-3.2ZM584.9,605.9h3.2V621.5h-3.2ZM589.3,596.7h3.2V606.8h-3.2ZM593.7,579.3h3.2V600.4h-3.2ZM598.1,573.0h3.2V583.0h-3.2ZM615.7,577.5h3.2V587.6h-3.2ZM628.9,570.2h3.2V590.3h-3.2ZM637.7,568.4h3.2V578.4h-3.2ZM642.1,566.5h3.2V571.1h-3.2ZM646.5,561.0h3.2V568.4h-3.2ZM650.9,548.2h3.2V562.9h-3.2ZM668.5,554.6h3.2V559.2h-3.2ZM677.3,569.3h3.2V572.0h-3.2ZM690.5,559.2h3.2V576.6h-3.2ZM694.9,555.5h3.2V561.0h-3.2ZM699.3,535.4h3.2V557.4h-3.2ZM708.1,538.1h3.2V543.6h-3.2ZM712.5,526.2h3.2V539.0h-3.2ZM716.9,453.0h3.2V523.5h-3.2ZM725.7,447.5h3.2V459.4h-3.2ZM734.5,437.4h3.2V447.5h-3.2ZM739.0,365.0h3.2V439.0h-3.2ZM743.4,362.0h3.2V365.0h-3.2ZM747.8,316.7h3.2V352.8h-3.2ZM769.8,391.7h3.2V403.8h-3.2ZM774.2,340.8h3.2V391.7h-3.2ZM778.6,335.0h3.2V347.0h-3.2ZM787.4,367.0h3.2V372.6h-3.2ZM796.2,311.7h3.2V369.8h-3.2ZM809.4,334.4h3.2V348.6h-3.2ZM827.0,381.8h3.2V385.4h-3.2ZM835.8,383.3h3.2V395.8h-3.2ZM840.2,372.5h3.2V380.8h-3.2ZM844.6,365.0h3.2V380.8h-3.2ZM849.0,360.8h3.2V364.2h-3.2ZM862.2,363.3h3.2V400.0h-3.2ZM871.0,362.5h3.2V365.8h-3.2ZM879.8,463.3h3.2V469.2h-3.2ZM888.6,468.3h3.2V479.2h-3.2ZM893.0,461.7h3.2V470.0h-3.2ZM897.4,438.3h3.2V456.7h-3.2ZM901.8,415.0h3.2V440.0h-3.2ZM906.3,327.5h3.2V415.8h-3.2ZM910.7,301.8h3.2V308.0h-3.2ZM915.1,301.0h3.2V316.6h-3.2ZM919.5,272.0h3.2V304.6h-3.2ZM928.3,277.7h3.2V285.5h-3.2ZM945.9,359.0h3.2V386.0h-3.2ZM950.3,325.9h3.2V359.4h-3.2ZM954.7,269.4h3.2V321.0h-3.2ZM959.1,243.6h3.2V274.2h-3.2ZM963.5,234.0h3.2V246.5h-3.2ZM998.7,297.2h3.2V394.8h-3.2ZM1007.5,297.0h3.2V301.0h-3.2ZM1020.7,288.6h3.2V313.4h-3.2ZM1025.1,274.2h3.2V293.4h-3.2ZM1029.5,228.3h3.2V288.6h-3.2ZM1038.3,213.0h3.2V229.2h-3.2ZM1047.1,262.7h3.2V265.6h-3.2ZM1055.9,283.8h3.2V297.2h-3.2ZM1069.2,299.5h3.2V309.0h-3.2ZM1073.6,285.0h3.2V304.3h-3.2ZM1078.0,282.3h3.2V286.0h-3.2ZM1086.8,302.4h3.2V305.3h-3.2ZM1100.0,313.0h3.2V320.6h-3.2ZM1108.8,321.5h3.2V333.0h-3.2ZM1117.6,315.8h3.2V322.5h-3.2ZM1122.0,307.2h3.2V319.6h-3.2ZM1126.4,307.2h3.2V312.0h-3.2ZM1139.6,315.8h3.2V333.0h-3.2ZM1144.0,300.5h3.2V319.6h-3.2ZM1148.4,291.9h3.2V301.4h-3.2ZM1152.8,250.7h3.2V291.0h-3.2ZM1157.2,224.0h3.2V254.5h-3.2ZM1170.4,239.2h3.2V243.0h-3.2ZM1192.4,374.0h3.2V390.7h-3.2ZM1196.8,345.7h3.2V372.5h-3.2ZM1205.6,294.3h3.2V359.0h-3.2ZM1210.0,276.0h3.2V295.0h-3.2ZM1223.2,288.7h3.2V295.8h-3.2ZM1227.6,270.6h3.2V292.7h-3.2ZM1254.1,311.7h3.2V336.0h-3.2ZM1258.5,296.6h3.2V307.7h-3.2ZM1280.5,359.0h3.2V375.0h-3.2ZM1284.9,348.0h3.2V361.5h-3.2ZM1289.3,334.6h3.2V363.0h-3.2ZM1302.5,332.3h3.2V345.7h-3.2ZM1306.9,315.0h3.2V333.3h-3.2ZM1320.1,320.0h3.2V325.6h-3.2ZM1324.5,311.2h3.2V320.0h-3.2ZM1333.3,317.0h3.2V332.3h-3.2ZM1337.7,314.0h3.2V320.0h-3.2ZM1350.9,312.2h3.2V320.0h-3.2ZM1368.5,381.0h3.2V449.0h-3.2ZM1372.9,295.0h3.2V382.0h-3.2ZM1377.3,216.4h3.2V294.9h-3.2ZM1395.0,268.0h3.2V294.0h-3.2ZM1403.8,205.0h3.2V277.7h-3.2ZM1408.2,199.0h3.2V210.7h-3.2ZM1417.0,184.8h3.2V204.0h-3.2ZM1425.8,158.0h3.2V186.7h-3.2ZM1434.6,168.6h3.2V189.6h-3.2ZM1439.0,149.4h3.2V164.7h-3.2ZM1456.6,186.0h3.2V202.6h-3.2ZM1461.0,122.0h3.2V189.7h-3.2ZM1478.6,274.8h3.2V314.5h-3.2ZM1487.4,305.0h3.2V312.0h-3.2ZM1505.0,421.0h3.2V430.3h-3.2ZM1509.4,404.7h3.2V405.9h-3.2ZM1513.8,393.0h3.2V403.5h-3.2ZM1522.6,478.0h3.2V507.3h-3.2ZM1531.4,463.0h3.2V482.8h-3.2ZM1535.8,442.0h3.2V458.3h-3.2ZM1540.2,414.0h3.2V446.7h-3.2ZM1544.6,378.0h3.2V400.0h-3.2ZM1549.0,367.4h3.2V383.7h-3.2ZM1562.3,341.8h3.2V388.4h-3.2ZM1566.7,309.0h3.2V330.0h-3.2ZM1575.5,291.2h3.2V332.4h-3.2ZM1588.7,296.8h3.2V315.6h-3.2ZM1606.3,320.6h3.2V383.6h-3.2ZM1610.7,311.8h3.2V320.6h-3.2ZM1615.1,271.9h3.2V313.7h-3.2ZM1623.9,255.0h3.2V284.0h-3.2ZM1628.3,248.0h3.2V262.0h-3.2Z" fill="#e1e3e8"/>
<path d="M0.0,430.3 C4.8,431.6 19.3,434.9 28.9,438.3 C38.5,441.7 49.1,446.6 57.8,450.8 C66.5,455.0 71.3,459.0 81.0,463.4 C90.7,467.8 102.9,472.2 115.7,476.9 C128.5,481.5 145.2,487.3 158.0,491.3 C170.8,495.3 180.6,497.6 192.8,501.0 C205.0,504.4 218.4,508.1 231.3,511.6 C244.2,515.1 257.1,518.7 270.0,522.2 C282.9,525.7 296.2,530.1 308.4,532.8 C320.6,535.5 333.4,536.2 343.0,538.6 C352.6,541.0 360.1,545.1 366.3,547.2 C372.5,549.3 371.3,549.0 380.0,551.3 C388.7,553.6 405.8,557.8 418.6,561.0 C431.5,564.2 444.2,567.9 457.1,570.6 C470.0,573.3 482.8,575.3 495.7,577.4 C508.6,579.5 521.4,581.3 534.2,583.1 C547.1,584.9 563.2,587.0 572.8,588.0 C582.4,589.0 582.4,589.2 592.0,589.3 C601.6,589.3 617.7,588.8 630.6,588.3 C643.5,587.8 657.6,587.1 669.2,586.4 C680.8,585.7 693.2,584.6 700.0,584.0 C706.8,583.4 706.7,583.7 710.0,583.0 C713.3,582.3 715.8,581.2 720.0,580.0 C724.2,578.8 730.0,577.8 735.0,576.0 C740.0,574.2 744.2,571.7 750.0,569.0 C755.8,566.3 763.3,562.8 770.0,560.0 C776.7,557.2 783.3,555.0 790.0,552.0 C796.7,549.0 803.3,544.8 810.0,542.0 C816.7,539.2 823.3,537.3 830.0,535.0 C836.7,532.7 843.3,530.5 850.0,528.0 C856.7,525.5 865.0,521.7 870.0,520.0 C875.0,518.3 875.0,518.7 880.0,518.0 C885.0,517.3 893.3,517.7 900.0,516.0 C906.7,514.3 913.3,510.9 920.0,508.0 C926.7,505.1 934.5,500.8 940.0,498.4 C945.5,496.0 947.2,496.5 953.0,493.9 C958.8,491.3 968.2,485.6 975.0,482.9 C981.8,480.2 985.2,481.0 994.0,477.9 C1002.8,474.8 1020.3,467.4 1028.0,464.0 C1035.7,460.6 1035.5,459.6 1040.0,457.4 C1044.5,455.2 1050.0,452.9 1055.0,451.0 C1060.0,449.1 1064.2,447.9 1070.0,446.0 C1075.8,444.1 1083.3,441.6 1090.0,439.5 C1096.7,437.4 1103.3,435.2 1110.0,433.5 C1116.7,431.8 1122.5,431.0 1130.0,429.0 C1137.5,427.0 1145.8,424.4 1155.0,421.5 C1164.2,418.6 1176.7,413.6 1185.1,411.5 C1193.5,409.4 1195.6,411.1 1205.2,409.0 C1214.8,406.9 1230.3,401.7 1242.8,399.0 C1255.3,396.3 1267.9,394.6 1280.4,392.7 C1292.9,390.8 1305.5,389.3 1318.0,387.7 C1330.5,386.1 1345.2,384.7 1355.6,383.2 C1366.0,381.7 1372.2,380.7 1380.6,378.9 C1388.9,377.1 1397.3,375.3 1405.7,372.6 C1414.1,369.9 1422.5,365.9 1430.8,362.6 C1439.1,359.3 1449.5,355.2 1455.8,352.6 C1462.0,350.0 1463.3,348.3 1468.3,347.0 C1473.3,345.7 1478.4,344.9 1485.9,345.0 C1493.4,345.1 1506.0,346.6 1513.5,347.6 C1521.0,348.7 1523.9,350.1 1531.0,351.3 C1538.1,352.5 1547.7,354.6 1556.0,355.0 C1564.3,355.4 1572.6,354.2 1581.0,353.8 C1589.4,353.4 1596.5,353.9 1606.2,352.6 C1615.9,351.4 1633.5,347.4 1639.0,346.3" stroke="#f21a1a" stroke-width="3.7" fill="none" stroke-linejoin="round" stroke-linecap="round"/>
<path d="M2.2,546.2 C5.4,546.7 15.7,547.5 21.6,549.0 C27.6,550.5 32.5,552.4 37.9,555.4 C43.3,558.4 47.4,562.0 54.1,566.8 C60.8,571.6 70.7,579.6 77.9,584.1 C85.1,588.6 90.6,590.5 97.4,593.9 C104.2,597.3 111.8,602.0 119.0,604.7 C126.2,607.4 133.5,608.3 140.7,610.1 C147.9,611.9 155.8,614.1 162.3,615.5 C168.9,616.9 173.1,617.8 180.0,618.2 C186.9,618.6 196.5,618.0 204.0,618.0 C211.5,618.0 217.3,617.5 225.0,618.0 C232.7,618.5 240.8,619.2 250.0,621.0 C259.2,622.8 269.5,626.9 280.0,628.5 C290.5,630.1 305.5,630.6 313.0,630.7 C320.5,630.8 319.5,629.3 325.0,629.2 C330.5,629.1 338.5,627.9 346.0,630.0 C353.5,632.1 361.0,638.4 370.0,642.0 C379.0,645.6 390.0,649.3 400.0,651.7 C410.0,654.1 420.0,655.0 430.0,656.2 C440.0,657.5 451.3,658.6 460.0,659.2 C468.7,659.8 474.9,660.4 482.4,660.0 C489.9,659.6 497.6,657.9 505.0,657.0 C512.4,656.1 521.2,655.2 527.0,654.7 C532.8,654.2 534.5,654.2 540.0,653.9 C545.5,653.6 553.3,653.7 560.0,652.9 C566.7,652.1 573.3,651.1 580.0,648.9 C586.7,646.7 593.3,642.7 600.0,639.9 C606.7,637.1 613.3,634.7 620.0,631.9 C626.7,629.1 633.3,625.9 640.0,622.9 C646.7,619.9 653.3,617.3 660.0,614.0 C666.7,610.7 673.3,605.9 680.0,603.0 C686.7,600.1 694.2,599.1 700.0,596.5 C705.8,593.9 708.9,593.6 715.0,587.5 C721.1,581.4 730.2,569.3 736.6,560.0 C743.0,550.7 747.7,539.8 753.3,531.5 C758.9,523.2 763.6,518.0 770.0,510.0 C776.4,501.9 784.1,492.1 791.6,483.2 C799.1,474.3 807.5,463.2 815.0,456.6 C822.5,450.0 829.3,447.7 836.6,443.3 C843.9,438.9 852.6,433.4 858.6,430.0 C864.6,426.6 868.3,423.6 872.6,423.2 C876.9,422.8 880.0,426.4 884.3,427.8 C888.6,429.2 894.4,431.7 898.3,431.3 C902.2,430.9 903.7,429.2 907.6,425.5 C911.5,421.8 916.9,414.1 921.6,409.2 C926.3,404.3 931.3,399.1 935.6,396.4 C939.9,393.7 942.9,395.8 947.2,392.9 C951.5,390.0 956.2,383.4 961.2,378.9 C966.2,374.4 972.5,368.1 977.5,366.0 C982.5,363.9 986.5,367.4 991.5,366.0 C996.5,364.6 1002.0,360.8 1007.8,357.9 C1013.6,355.0 1020.6,352.9 1026.5,348.6 C1032.4,344.3 1037.0,336.2 1043.0,332.0 C1049.0,327.8 1056.0,325.7 1062.5,323.4 C1069.0,321.1 1074.8,318.9 1082.0,318.0 C1089.2,317.1 1097.5,317.8 1105.8,318.0 C1114.1,318.2 1124.9,319.0 1131.8,319.0 C1138.7,319.0 1142.3,319.8 1147.0,318.0 C1151.7,316.2 1155.0,311.1 1160.0,308.2 C1165.0,305.3 1172.9,301.9 1177.2,300.7 C1181.5,299.4 1181.9,299.1 1185.9,300.7 C1189.9,302.3 1195.6,309.3 1201.0,310.4 C1206.4,311.5 1211.4,308.2 1218.4,307.2 C1225.4,306.2 1235.7,304.7 1243.0,304.4 C1250.3,304.1 1256.4,304.2 1262.5,305.5 C1268.6,306.8 1273.7,310.2 1279.8,312.0 C1285.9,313.8 1291.7,315.4 1299.3,316.3 C1306.9,317.2 1316.6,317.0 1325.3,317.4 C1334.0,317.8 1345.4,317.6 1351.2,318.5 C1357.0,319.4 1356.7,321.2 1359.9,322.8 C1363.2,324.4 1367.1,328.7 1370.7,328.2 C1374.3,327.7 1376.5,321.9 1381.5,319.6 C1386.5,317.3 1394.8,318.2 1401.0,314.2 C1407.2,310.2 1411.4,302.5 1418.4,295.8 C1425.4,289.1 1436.7,279.6 1443.0,274.0 C1449.3,268.4 1452.0,265.7 1456.0,262.0 C1460.0,258.3 1463.7,253.3 1467.0,252.0 C1470.3,250.7 1472.0,252.2 1476.0,254.0 C1480.0,255.8 1485.7,258.7 1491.0,263.0 C1496.3,267.3 1503.0,274.2 1508.0,280.0 C1513.0,285.8 1516.0,291.2 1521.0,298.0 C1526.0,304.8 1531.3,315.3 1538.0,321.0 C1544.7,326.7 1552.5,330.8 1561.0,332.0 C1569.5,333.2 1582.0,328.3 1589.0,328.0 C1596.0,327.7 1598.3,330.5 1603.0,330.0 C1607.7,329.5 1611.0,327.5 1617.0,325.0 C1623.0,322.5 1635.3,316.7 1639.0,315.0" stroke="#4caf50" stroke-width="3.7" fill="none" stroke-linejoin="round" stroke-linecap="round"/>
<path d="M2.2,543.0 C4.5,544.3 11.1,548.1 16.2,550.6 C21.2,553.1 27.6,554.9 32.5,558.1 C37.4,561.3 41.5,565.5 45.5,570.0 C49.5,574.5 52.7,580.2 56.3,585.2 C59.9,590.2 63.5,595.1 67.1,600.3 C70.7,605.5 74.3,612.5 77.9,616.6 C81.5,620.8 83.7,622.3 88.7,625.2 C93.8,628.1 103.2,631.5 108.2,633.9 C113.2,636.3 114.5,639.0 119.0,639.8 C123.5,640.6 128.1,639.0 135.3,638.8 C142.5,638.6 154.9,639.8 162.3,638.8 C169.8,637.8 174.9,634.4 180.0,633.0 C185.1,631.6 187.0,631.9 193.1,630.5 C199.2,629.1 208.6,625.3 216.3,624.7 C224.0,624.1 231.7,625.9 239.4,627.0 C247.1,628.1 254.8,629.7 262.5,631.6 C270.2,633.5 279.9,637.1 285.7,638.6 C291.5,640.1 292.4,641.3 297.2,640.9 C302.0,640.5 308.8,637.8 314.6,636.3 C320.4,634.8 326.7,632.8 331.9,632.2 C337.1,631.6 340.0,629.2 345.8,632.8 C351.6,636.4 360.2,648.0 366.6,653.6 C373.0,659.2 378.6,663.4 384.0,666.3 C389.4,669.2 394.7,670.4 399.0,671.0 C403.3,671.6 404.8,670.1 410.0,669.8 C415.2,669.5 421.7,669.1 430.0,669.0 C438.3,668.9 451.1,669.4 460.0,669.0 C468.9,668.6 477.3,667.8 483.3,666.6 C489.3,665.4 491.6,663.1 495.8,661.6 C500.0,660.1 503.5,659.0 508.3,657.5 C513.1,656.0 519.6,653.8 524.9,652.5 C530.2,651.2 535.0,650.5 540.0,649.9 C545.0,649.3 550.7,649.5 555.0,648.9 C559.3,648.3 562.2,647.6 566.0,646.4 C569.8,645.2 574.0,644.3 578.0,641.9 C582.0,639.5 586.0,635.7 590.0,631.9 C594.0,628.1 597.0,622.8 602.0,619.0 C607.0,615.2 615.7,611.5 620.0,609.0 C624.3,606.5 623.0,607.2 628.0,604.0 C633.0,600.8 643.0,594.7 650.0,590.0 C657.0,585.3 664.2,578.5 670.0,576.0 C675.8,573.5 680.8,575.5 684.9,575.0 C689.0,574.5 690.8,575.2 694.9,573.0 C699.0,570.8 705.6,567.0 709.8,562.0 C714.0,557.0 715.8,550.8 720.0,543.2 C724.2,535.6 730.8,525.4 735.0,516.5 C739.2,507.6 742.0,498.8 745.0,489.9 C748.0,481.0 750.2,471.0 753.3,463.2 C756.3,455.4 760.5,447.7 763.3,443.3 C766.1,438.9 767.5,440.8 770.0,436.6 C772.5,432.4 774.7,423.2 778.3,418.3 C781.9,413.4 788.3,410.8 791.6,407.5 C794.9,404.2 794.4,403.0 798.3,398.3 C802.2,393.6 808.6,382.2 815.0,379.1 C821.4,376.1 830.1,380.2 836.6,380.0 C843.1,379.8 849.5,377.9 854.0,377.7 C858.5,377.5 860.2,379.4 863.3,379.0 C866.4,378.6 869.5,373.5 872.6,375.4 C875.7,377.3 878.5,384.9 882.0,390.5 C885.5,396.1 890.5,405.1 893.6,409.0 C896.7,412.9 898.3,414.2 900.6,413.8 C902.9,413.4 904.5,412.3 907.6,406.9 C910.7,401.5 915.0,390.1 919.3,381.2 C923.6,372.2 928.9,357.1 933.2,353.2 C937.5,349.3 941.1,359.2 945.0,358.0 C948.9,356.8 952.2,352.4 956.5,346.0 C960.8,339.6 966.2,323.2 970.5,319.4 C974.8,315.6 978.1,320.3 982.2,323.0 C986.3,325.7 990.7,335.4 995.0,335.8 C999.3,336.2 1003.3,328.4 1007.8,325.3 C1012.3,322.2 1018.1,320.2 1021.8,317.0 C1025.5,313.8 1026.8,310.7 1030.0,306.0 C1033.2,301.3 1037.5,292.2 1040.8,288.8 C1044.0,285.4 1045.5,285.3 1049.5,285.5 C1053.5,285.7 1059.9,289.1 1064.6,289.8 C1069.3,290.5 1072.9,289.3 1077.6,289.8 C1082.3,290.3 1088.1,291.2 1092.8,293.0 C1097.5,294.8 1101.1,298.5 1105.8,300.7 C1110.5,302.9 1115.6,304.4 1121.0,306.0 C1126.4,307.6 1134.0,310.0 1138.3,310.4 C1142.6,310.8 1143.4,311.4 1147.0,308.2 C1150.6,305.0 1155.7,295.9 1160.0,291.0 C1164.3,286.1 1169.0,280.6 1172.9,279.0 C1176.9,277.4 1180.8,278.9 1183.7,281.2 C1186.6,283.5 1187.0,288.7 1190.2,293.0 C1193.5,297.3 1198.5,305.4 1203.2,307.0 C1207.9,308.6 1213.9,304.5 1218.4,302.8 C1222.9,301.1 1227.0,298.1 1230.0,296.9 C1233.0,295.7 1233.2,294.9 1236.5,295.8 C1239.8,296.7 1244.8,300.7 1249.5,302.3 C1254.2,303.9 1259.9,303.7 1264.6,305.5 C1269.3,307.3 1272.9,309.9 1277.6,313.0 C1282.3,316.1 1288.5,321.8 1292.8,324.0 C1297.1,326.2 1298.9,325.8 1303.6,326.0 C1308.3,326.2 1313.4,325.7 1321.0,325.0 C1328.6,324.3 1343.2,322.0 1349.0,321.8 C1354.8,321.6 1353.1,320.8 1355.6,324.0 C1358.1,327.2 1361.9,337.8 1364.2,341.2 C1366.5,344.6 1367.4,346.3 1369.6,344.5 C1371.8,342.7 1374.1,334.7 1377.2,330.4 C1380.3,326.1 1384.0,322.3 1388.0,318.5 C1392.0,314.7 1396.7,314.0 1401.0,307.7 C1405.3,301.4 1409.7,289.8 1414.0,280.6 C1418.3,271.4 1422.2,261.6 1427.0,252.5 C1431.8,243.4 1438.5,231.9 1443.0,226.0 C1447.5,220.1 1450.2,220.7 1454.0,217.0 C1457.8,213.3 1462.7,204.7 1466.0,204.0 C1469.3,203.3 1470.2,207.2 1474.0,213.0 C1477.8,218.8 1484.7,230.3 1489.0,239.0 C1493.3,247.7 1496.0,253.5 1500.0,265.0 C1504.0,276.5 1509.0,295.3 1513.0,308.0 C1517.0,320.7 1520.7,331.7 1524.0,341.0 C1527.3,350.3 1529.8,358.0 1533.0,364.0 C1536.2,370.0 1539.0,375.0 1543.0,377.0 C1547.0,379.0 1552.5,378.2 1557.0,376.0 C1561.5,373.8 1565.3,368.3 1570.0,364.0 C1574.7,359.7 1581.0,353.7 1585.0,350.0 C1589.0,346.3 1591.0,342.3 1594.0,342.0 C1597.0,341.7 1599.2,348.8 1603.0,348.0 C1606.8,347.2 1611.0,344.2 1617.0,337.0 C1623.0,329.8 1635.3,310.3 1639.0,305.0" stroke="#2962ff" stroke-width="3.7" fill="none" stroke-linejoin="round" stroke-linecap="round"/>
<line x1="890" y1="517.5" x2="1753.5" y2="517.5" stroke="#f7a21b" stroke-width="3"/>
</g>
<text x="52.5" y="707.5" font-size="13.5" fill="#e2505e" textLength="53.3" lengthAdjust="spacingAndGlyphs">BOTTOM</text><circle cx="79.7" cy="688.7" r="1.3" fill="#e2505e"/>
<text x="191.7" y="592.8" font-size="13.5" fill="#4caf50" textLength="32.5" lengthAdjust="spacingAndGlyphs">PEAK</text><circle cx="207.2" cy="600.8" r="1.3" fill="#4caf50"/>
<text x="516.9" y="621.0" font-size="13.5" fill="#4caf50" textLength="31.5" lengthAdjust="spacingAndGlyphs">PEAK</text><circle cx="533.0" cy="628.8" r="1.3" fill="#4caf50"/>
<text x="630.9" y="527.5" font-size="13.5" fill="#4caf50" textLength="32.3" lengthAdjust="spacingAndGlyphs">PEAK</text><circle cx="647.8" cy="534.9" r="1.3" fill="#4caf50"/>
<text x="952.6" y="191.0" font-size="13.5" fill="#4caf50" textLength="32.3" lengthAdjust="spacingAndGlyphs">PEAK</text><circle cx="968.9" cy="197.7" r="1.3" fill="#4caf50"/>
<text x="1141.6" y="206.3" font-size="13.5" fill="#4caf50" textLength="32.3" lengthAdjust="spacingAndGlyphs">PEAK</text><circle cx="1158.5" cy="213.1" r="1.3" fill="#4caf50"/>
<text x="1166.8" y="449.3" font-size="13.5" fill="#e2505e" textLength="53.2" lengthAdjust="spacingAndGlyphs">BOTTOM</text><circle cx="1193.3" cy="430.2" r="1.3" fill="#e2505e"/>
<text x="1496.4" y="560.3" font-size="13.5" fill="#e2505e" textLength="53.6" lengthAdjust="spacingAndGlyphs">BOTTOM</text><circle cx="1523.0" cy="540.0" r="1.3" fill="#e2505e"/>
<text x="1594" y="582.8" font-size="47" fill="#f7a21b" textLength="209.5" lengthAdjust="spacingAndGlyphs">Stop Hunt</text>
<line x1="2" y1="826.2" x2="1639" y2="826.2" stroke="#434651" stroke-width="1.6"/>
<line x1="2" y1="887.3" x2="1639" y2="887.3" stroke="#434651" stroke-width="1.6"/>
<line x1="2" y1="948.0" x2="1639" y2="948.0" stroke="#434651" stroke-width="1.6"/>
<g clip-path="url(#co)">
<polyline points="2.0,927.8 2.4,928.1 3.0,928.3 3.6,928.6 4.4,929.0 5.2,929.5 6.1,930.1 7.0,930.9 8.0,931.8 8.6,932.5 9.3,933.3 10.0,934.1 10.7,935.1 11.5,936.1 12.2,937.1 13.0,938.2 13.8,939.2 14.6,940.3 15.5,941.3 16.3,942.3 17.2,943.2 18.0,944.0 18.7,944.6 19.4,945.2 20.1,945.7 20.9,946.2 21.7,946.7 22.4,947.2 23.2,947.7 24.0,948.1 24.7,948.6 25.5,949.0 26.3,949.5 27.1,950.0 27.8,950.4 28.6,950.9 29.3,951.5 30.0,952.0 30.8,952.7 31.6,953.3 32.3,954.0 33.1,954.7 33.8,955.5 34.5,956.2 35.2,956.9 36.0,957.7 36.7,958.4 37.4,959.2 38.2,959.9 38.9,960.6 39.7,961.3 40.5,962.0 41.2,962.6 41.9,963.2 42.7,963.8 43.4,964.4 44.2,965.0 44.9,965.6 45.7,966.2 46.4,966.8 47.2,967.3 48.0,967.9 48.8,968.4 49.5,969.0 50.3,969.5 51.1,970.0 51.8,970.5 52.6,971.0 53.4,971.5 54.1,971.9 54.9,972.3 55.6,972.8 56.3,973.2 57.1,973.6 57.8,974.0 58.6,974.4 59.3,974.7 60.1,975.1 60.8,975.4 61.6,975.8 62.4,976.1 63.2,976.4 64.0,976.7 64.8,977.0 65.6,977.3 66.3,977.5 67.1,977.8 68.0,978.1 68.8,978.3 69.7,978.6 70.6,978.8 71.4,979.0 72.3,979.3 73.1,979.5 74.0,979.7 74.8,979.8 75.6,980.0 76.4,980.1 77.1,980.2 77.8,980.3 78.4,980.4 79.0,980.4 80.1,980.5 81.1,980.6 81.9,980.7 82.5,980.7 83.1,980.4 83.7,979.9 84.3,978.9 85.0,977.4 85.7,975.3 86.4,972.6 87.1,969.6 87.8,966.2 88.5,962.6 89.2,958.9 90.1,955.4 91.0,952.0 91.6,950.0 92.3,947.9 93.0,945.9 93.7,943.8 94.5,941.7 95.2,939.6 96.0,937.5 96.8,935.4 97.6,933.4 98.5,931.4 99.3,929.4 100.2,927.5 101.0,925.7 101.7,924.3 102.4,922.9 103.2,921.5 103.9,920.2 104.7,918.9 105.5,917.6 106.2,916.3 107.0,915.1 107.8,913.9 108.6,912.7 109.4,911.5 110.1,910.3 110.9,909.1 111.6,907.9 112.3,906.7 113.0,905.5 113.9,903.9 114.7,902.4 115.6,900.9 116.4,899.4 117.2,898.0 117.9,896.5 118.7,895.1 119.5,893.6 120.2,892.1 121.0,890.5 121.7,889.0 122.5,887.3 123.3,885.5" stroke="#f23645" stroke-width="3.8" fill="none" stroke-linejoin="round" stroke-linecap="butt"/>
<polyline points="123.3,885.5 124.0,883.7 124.8,881.7 125.5,879.7 126.3,877.7 127.0,875.6 127.8,873.6 128.5,871.7 129.3,869.8 130.0,868.1 130.8,866.4 131.6,865.0 132.3,863.8 133.1,862.8 133.8,861.8 134.6,861.0 135.3,860.2 136.1,859.5 136.8,858.8 137.6,858.2 138.4,857.5 139.2,856.9 140.0,856.3 140.9,855.7 141.7,855.0 142.4,854.4 143.1,853.9 143.9,853.3 144.7,852.7 145.5,852.2 146.3,851.6 147.1,851.1 147.9,850.5 148.7,850.0 149.5,849.5 150.2,849.0 151.0,848.5 151.7,848.1 152.5,847.6 153.1,847.2 153.8,846.8 154.7,846.3 155.5,846.0 156.2,845.7 156.9,845.5 157.6,845.3 158.2,845.1 158.9,844.8 159.6,844.5 160.3,844.1 161.1,843.5 162.0,842.8 162.6,842.2 163.3,841.4 164.0,840.6 164.7,839.7 165.5,838.8 166.2,837.8 167.0,836.7 167.8,835.7 168.5,834.7 169.3,833.6 170.1,832.6 170.9,831.7 171.7,830.8 172.5,830.0 173.2,829.2 174.0,828.6 174.7,828.1 175.5,827.6 176.2,827.2 176.9,826.8 177.7,826.5 178.4,826.2 179.1,826.0 179.8,825.8 180.6,825.6 181.3,825.4 182.1,825.3 182.8,825.1 183.6,825.0 184.4,824.8 185.2,824.7 186.0,824.5 186.7,824.3 187.4,824.2 188.2,824.1 188.9,824.0 189.7,823.9 190.5,823.8 191.3,823.7 192.1,823.7 192.9,823.6 193.7,823.5 194.5,823.5 195.3,823.4 196.1,823.3 196.9,823.2 197.6,823.1 198.3,823.0 199.1,822.8 199.7,822.7 200.4,822.5 201.3,822.2 202.2,821.8 203.0,821.4 203.8,821.0 204.6,820.5 205.3,820.1 206.1,819.6 206.8,819.1 207.5,818.7 208.3,818.3 209.0,817.9 209.7,817.6 210.5,817.4 211.3,817.2 212.1,817.0 212.9,816.8 213.7,816.6 214.5,816.4 215.3,816.3 216.1,816.2 216.9,816.2 217.6,816.3 218.4,816.4 219.2,816.6 219.9,817.0 220.6,817.4 221.4,818.1 222.2,818.9 223.0,819.8 223.7,820.9 224.4,822.1 225.1,823.3 225.8,824.6 226.5,826.1 227.3,827.5 228.0,829.0 228.7,830.6 229.4,832.3 230.2,834.2 231.0,836.3 231.7,838.5 232.5,840.7 233.2,842.9 234.0,845.1 234.7,847.1 235.4,849.0 236.1,850.6 236.8,851.9 237.7,853.3 238.5,854.2 239.3,854.9 240.0,855.3 240.8,855.5 241.5,855.7 242.2,855.8 243.0,856.0 243.7,856.0 244.5,855.7 245.2,855.3 245.9,854.8 246.6,854.5 247.4,854.5 248.2,854.9 249.0,856.0 249.7,857.3 250.4,859.0 251.2,861.0 252.0,863.3 252.8,865.7 253.7,868.2 254.4,870.8 255.2,873.2 255.9,875.4 256.5,877.4 257.0,879.0 257.8,882.7 258.0,884.8 259.0,887.3" stroke="#2962ff" stroke-width="3.8" fill="none" stroke-linejoin="round" stroke-linecap="butt"/>
<polyline points="259.0,887.3 259.5,888.1 260.1,889.0 260.8,890.0 261.5,890.9 262.3,892.0 263.1,893.0 263.9,894.0 264.8,895.0 265.7,896.0 266.5,896.9 267.4,897.8 268.2,898.7 269.0,899.4 269.8,900.1 270.6,900.7 271.3,901.2 272.1,901.7 272.9,902.2 273.7,902.6 274.5,903.0 275.3,903.4 276.0,903.8 276.8,904.2 277.5,904.6 278.3,905.0 279.0,905.5 279.8,906.0 280.6,906.6 281.4,907.1 282.2,907.6 282.9,908.2 283.7,908.7 284.4,909.2 285.2,909.8 285.9,910.4 286.7,911.0 287.4,911.6 288.2,912.3 288.9,913.1 289.7,914.0 290.5,915.0 291.2,915.9 292.0,916.9 292.7,917.7 293.4,918.5 294.2,919.1 294.8,919.5 295.5,919.7 296.3,919.8 297.1,919.6 297.8,919.3 298.4,918.8 299.1,918.0 299.8,916.9 300.7,915.4 301.6,913.6 302.3,912.2 303.0,910.6 303.7,908.8 304.5,906.8 305.3,904.7 306.1,902.5 306.9,900.2 307.8,897.9 308.6,895.6 309.4,893.4 310.2,891.2 311.0,889.2 311.7,887.3 312.5,885.2" stroke="#f23645" stroke-width="3.8" fill="none" stroke-linejoin="round" stroke-linecap="butt"/>
<polyline points="312.5,885.2 313.3,883.2 314.1,881.3 314.8,879.5 315.5,877.7 316.2,875.9 316.9,874.1 317.6,872.4 318.3,870.6 319.1,868.8 319.8,867.0 320.5,865.1 321.2,863.1 321.9,861.1 322.5,859.0 323.2,857.0 323.9,855.0 324.6,853.0 325.3,851.2 326.2,849.6 327.0,848.1 328.0,846.8 328.6,846.1 329.3,845.5 330.1,844.9 330.9,844.4 331.7,843.9 332.5,843.5 333.4,843.1 334.3,842.7 335.1,842.4 336.0,842.2 336.9,841.9 337.7,841.8 338.5,841.7 339.3,841.6 340.1,841.5 340.8,841.6 341.4,841.6 342.0,841.7 343.1,841.9 344.0,842.1 344.7,842.5 345.4,843.1 346.0,844.1 346.5,845.6 347.2,847.9 348.0,850.9 348.7,853.8 349.4,857.3 350.1,861.4 350.8,865.8 351.6,870.5 352.4,875.4 353.2,880.3 353.9,885.0 354.6,889.5" stroke="#2962ff" stroke-width="3.8" fill="none" stroke-linejoin="round" stroke-linecap="butt"/>
<polyline points="354.6,889.5 355.3,893.7 356.0,897.4 356.8,901.9 357.6,906.0 358.3,909.8 359.0,913.3 359.7,916.6 360.4,919.8 361.2,922.8 362.0,925.7 362.6,927.8 363.3,929.8 363.9,931.8 364.6,933.7 365.2,935.5 365.9,937.2 366.7,938.8 367.4,940.3 368.2,941.7 369.1,942.9 370.0,944.0 370.7,944.7 371.4,945.2 372.2,945.7 373.0,946.1 373.8,946.5 374.7,946.8 375.5,947.1 376.4,947.3 377.3,947.4 378.1,947.6 379.0,947.7 379.8,947.8 380.6,947.8 381.3,947.9 382.0,947.9 382.6,948.0 383.7,948.1 384.5,948.2 385.3,948.2 385.9,948.1 386.6,947.9 387.2,947.5 387.9,946.9 388.7,946.0 389.4,945.2 390.1,944.3 390.8,943.3 391.5,942.2 392.2,940.9 393.0,939.6 393.8,938.2 394.5,936.7 395.3,935.2 396.1,933.5 396.8,931.8 397.5,930.0 398.3,928.0 399.0,925.9 399.7,923.7 400.5,921.4 401.2,919.1 402.0,916.8 402.7,914.4 403.4,912.1 404.2,909.7 404.9,907.5 405.6,905.2 406.4,902.9 407.1,900.5 407.8,898.1 408.5,895.7 409.3,893.3 410.0,891.0 410.7,888.8 411.5,886.8" stroke="#f23645" stroke-width="3.8" fill="none" stroke-linejoin="round" stroke-linecap="butt"/>
<polyline points="411.5,886.8 412.2,884.9 413.0,883.2 413.7,881.8 414.4,880.6 415.2,879.4 415.9,878.4 416.6,877.4 417.4,876.6 418.1,875.8 418.9,875.1 419.7,874.5 420.4,873.9 421.2,873.4 422.0,873.0 422.7,872.7 423.5,872.6 424.2,872.5 425.0,872.6 425.8,872.8 426.5,873.0 427.3,873.2 428.1,873.4 428.9,873.6 429.6,873.6 430.4,873.6 431.2,873.4 432.0,873.0 432.8,872.5 433.6,871.8 434.3,870.9 435.1,870.0 435.9,869.0 436.7,867.9 437.5,866.8 438.3,865.7 439.1,864.6 439.9,863.6 440.7,862.6 441.5,861.8 442.4,861.0 443.1,860.5 443.8,859.9 444.6,859.4 445.3,859.0 446.1,858.5 446.8,858.1 447.6,857.7 448.3,857.3 449.1,857.0 449.9,856.6 450.7,856.3 451.4,856.0 452.2,855.7 453.0,855.5 453.7,855.2 454.5,855.0 455.3,854.8 456.1,854.6 456.9,854.5 457.7,854.3 458.5,854.2 459.3,854.1 460.2,854.1 461.0,854.0 461.8,854.0 462.6,853.9 463.3,853.9 464.1,853.9 464.8,853.9 465.5,853.9 466.1,854.0 466.7,854.0 467.7,854.2 468.5,854.6 469.2,855.1 469.8,855.6 470.3,856.0 471.0,856.3 471.8,856.3 472.8,856.0 473.4,855.7 474.0,855.4 474.7,855.0 475.4,854.5 476.1,854.0 476.8,853.5 477.6,852.9 478.4,852.2 479.2,851.5 480.0,850.8 480.8,850.1 481.7,849.3 482.5,848.4 483.3,847.6 484.2,846.7 485.0,845.8 485.7,844.9 486.5,844.0 487.3,842.9 488.2,841.8 489.0,840.7 489.9,839.5 490.8,838.2 491.6,837.0 492.5,835.8 493.4,834.5 494.2,833.3 495.0,832.1 495.8,831.0 496.5,830.0 497.2,829.0 497.9,828.1 498.5,827.3 499.0,826.6 500.2,825.1 500.9,824.2 501.4,823.7 501.7,823.6 502.2,823.5 503.0,823.5 503.6,823.5 504.2,823.6 504.8,823.9 505.4,824.1 506.1,824.5 506.9,824.8 507.6,825.1 508.4,825.3 509.2,825.5 510.1,825.6 511.0,825.5 511.6,825.4 512.3,825.2 513.1,825.0 513.8,824.7 514.6,824.4 515.4,824.1 516.2,823.7 517.0,823.4 517.8,823.0 518.6,822.6 519.4,822.2 520.2,821.9 520.9,821.5 521.6,821.1 522.3,820.8 523.0,820.5 523.9,820.1 524.8,819.6 525.6,819.1 526.5,818.6 527.2,818.1 528.0,817.7 528.7,817.2 529.5,816.9 530.2,816.6 530.8,816.5 531.5,816.4 532.3,816.3 533.0,815.9 533.7,815.6 534.3,815.5 534.9,815.8 535.6,816.6 536.5,818.1 537.5,820.5 538.1,822.2 538.7,824.2 539.4,826.6 540.1,829.2 540.9,832.1 541.6,835.1 542.4,838.3 543.2,841.5 544.0,844.7 544.9,847.9 545.7,851.0 546.5,853.9 547.3,856.6 548.1,859.1 548.9,861.2 549.7,863.0 550.5,864.5 551.2,865.8 552.0,866.9 552.8,867.9 553.6,868.8 554.3,869.4 555.1,870.0 555.9,870.5 556.6,870.8 557.4,871.1 558.2,871.2 558.9,871.3 559.7,871.3 560.4,871.2 561.1,871.1 561.8,871.0 562.6,870.7 563.5,870.1 564.3,869.3 565.1,868.4 565.9,867.3 566.6,866.1 567.4,864.9 568.2,863.6 568.9,862.3 569.7,861.1 570.5,859.9 571.2,858.9 572.0,858.0 572.8,857.3 573.5,856.7 574.2,856.3 575.0,855.9 575.7,855.5 576.4,855.2 577.1,854.8 577.9,854.4 578.6,853.9 579.4,853.2 580.2,852.4 581.1,851.3 582.0,850.0 582.7,848.9 583.4,847.5 584.2,846.1 585.0,844.5 585.8,842.8 586.6,841.0 587.4,839.1 588.3,837.2 589.1,835.3 590.0,833.3 590.8,831.4 591.6,829.5 592.4,827.7 593.2,826.0 594.0,824.4 594.7,823.0 595.4,821.6 596.0,820.5 596.9,818.9 597.8,817.6 598.5,816.6 599.2,815.7 599.8,815.0 600.4,814.5 601.0,814.0 601.7,813.6 602.4,813.2 603.1,812.8 604.0,812.4 604.7,812.1 605.4,811.8 606.2,811.5 607.0,811.3 607.8,811.1 608.6,810.9 609.5,810.7 610.4,810.6 611.2,810.5 612.1,810.4 612.9,810.3 613.7,810.3 614.5,810.3 615.2,810.3 615.9,810.3 616.5,810.4 617.6,810.7 618.5,811.1 619.2,811.6 619.9,812.3 620.5,813.0 621.1,813.8 621.8,814.6 622.5,815.4 623.2,816.3 623.9,817.3 624.6,818.4 625.3,819.5 626.0,820.6 626.8,821.7 627.6,822.7 628.6,823.5 629.2,824.0 629.9,824.4 630.7,824.8 631.4,825.3 632.2,825.7 633.0,826.0 633.8,826.4 634.6,826.7 635.5,826.9 636.3,827.2 637.1,827.4 637.9,827.5 638.7,827.6 639.5,827.7 640.3,827.7 641.0,827.6 641.8,827.5 642.6,827.4 643.4,827.3 644.2,827.1 645.0,826.9 645.8,826.6 646.6,826.4 647.3,826.1 648.1,825.8 648.9,825.5 649.7,825.1 650.5,824.6 651.3,824.1 652.1,823.4 652.9,822.8 653.7,822.1 654.5,821.5 655.3,820.9 656.1,820.4 656.8,819.9 657.6,819.6 658.3,819.5 659.0,819.5 659.8,819.7 660.6,820.1 661.4,820.7 662.1,821.4 662.9,822.2 663.6,823.1 664.3,824.1 665.0,825.2 665.7,826.3 666.4,827.4 667.0,828.6 667.8,830.1 668.6,831.5 669.3,833.0 670.0,834.6 670.7,836.5 671.4,838.7 672.2,841.5 673.0,844.8 673.6,847.8 674.3,851.2 674.9,855.0 675.6,859.2 676.3,863.5 677.0,867.9 677.7,872.2 678.4,876.5 679.3,880.4 680.1,884.1 681.0,887.3" stroke="#2962ff" stroke-width="3.8" fill="none" stroke-linejoin="round" stroke-linecap="butt"/>
<polyline points="681.0,887.3 681.7,889.3 682.4,891.3 683.1,893.3 683.8,895.2 684.6,897.1 685.4,898.8 686.2,900.5 687.1,902.1 687.9,903.6 688.7,904.9 689.5,906.2 690.4,907.2 691.2,908.1 691.9,908.8 692.7,909.3 693.4,909.6 694.3,909.6 695.1,909.2 695.9,908.4 696.7,907.3 697.5,905.9 698.3,904.4 699.1,902.7 699.9,900.9 700.6,899.2 701.4,897.5 702.1,895.9 702.8,894.6 703.5,893.4 704.3,892.4 705.1,891.7 705.8,891.2 706.5,890.8 707.2,890.4 707.9,890.0 708.6,889.3 709.3,888.4 710.0,887.2" stroke="#f23645" stroke-width="3.8" fill="none" stroke-linejoin="round" stroke-linecap="butt"/>
<polyline points="710.0,887.2 710.8,885.5 711.6,883.2 712.3,880.7 713.1,877.7 713.8,874.3 714.6,870.5 715.4,866.5 716.2,862.3 717.1,858.1 717.9,853.9 718.7,849.8 719.5,846.0 720.2,842.4 721.0,839.3 721.7,836.7 722.5,834.2 723.2,832.2 723.9,830.6 724.6,829.2 725.3,828.2 726.0,827.3 726.6,826.5 727.3,825.6 728.1,824.8 728.9,823.7 729.8,822.5 730.5,821.5 731.1,820.5 731.8,819.5 732.6,818.4 733.3,817.3 734.1,816.2 734.9,815.1 735.7,814.0 736.5,812.9 737.3,811.8 738.1,810.8 738.9,809.8 739.7,808.8 740.5,807.9 741.2,807.1 742.0,806.3 742.8,805.6 743.5,804.9 744.3,804.3 745.1,803.6 745.9,803.1 746.7,802.5 747.5,802.0 748.3,801.5 749.0,801.1 749.8,800.7 750.6,800.4 751.3,800.0 752.0,799.8 752.7,799.5 753.4,799.3 754.0,799.2 754.9,799.0 755.7,798.8 756.5,798.6 757.2,798.5 757.9,798.5 758.6,798.6 759.2,798.9 759.9,799.4 760.6,800.1 761.3,801.0 762.0,802.3 762.7,804.0 763.5,806.2 764.2,808.9 764.9,811.8 765.7,814.8 766.4,818.0 767.1,821.0 767.9,823.9 768.7,826.6 769.5,828.8 770.3,830.6 771.0,831.6 771.7,832.3 772.5,832.7 773.2,832.9 774.0,832.8 774.7,832.7 775.5,832.6 776.3,832.5 777.1,832.4 777.9,832.6 778.7,833.0 779.5,833.7 780.4,834.7 781.1,835.8 781.8,837.2 782.6,838.9 783.4,840.6 784.1,842.6 784.9,844.6 785.7,846.7 786.5,848.9 787.3,851.0 788.1,853.1 788.9,855.1 789.6,857.1 790.4,858.9 791.2,860.5 791.9,861.9 792.6,863.0 793.4,864.1 794.2,864.8 795.0,865.3 795.8,865.6 796.5,865.8 797.3,865.8 798.0,865.7 798.8,865.7 799.5,865.7 800.3,865.7 801.1,866.0 801.9,866.4 802.7,867.0 803.4,867.7 804.2,868.5 804.9,869.3 805.7,870.2 806.6,871.2 807.4,872.3 808.2,873.4 809.0,874.5 809.9,875.6 810.7,876.7 811.5,877.9 812.2,879.0 813.0,880.1 813.7,881.2 814.3,882.2 814.9,883.2 815.9,885.1 816.8,886.9 817.6,888.7" stroke="#2962ff" stroke-width="3.8" fill="none" stroke-linejoin="round" stroke-linecap="butt"/>
<polyline points="817.6,888.7 818.3,890.4 818.9,892.2 819.6,893.9 820.2,895.6 821.0,897.4 821.7,899.0 822.5,900.5 823.2,902.0 824.0,903.5 824.8,905.0 825.6,906.6 826.4,908.2 827.2,909.8 828.0,911.6 828.7,913.1 829.4,914.8 830.0,916.6 830.7,918.4 831.4,920.3 832.2,922.1 832.9,923.9 833.6,925.6 834.4,927.2 835.2,928.6 836.0,929.8 836.7,930.7 837.5,931.4 838.3,932.1 839.1,932.7 840.0,933.2 840.8,933.6 841.7,934.0 842.5,934.3 843.4,934.6 844.2,934.9 844.9,935.2 845.6,935.6 846.3,935.9 847.2,936.4 848.1,936.8 848.8,937.2 849.5,937.5 850.2,937.8 850.8,938.1 851.6,938.5 852.4,939.0 853.1,939.5 853.7,940.0 854.4,940.6 855.1,941.3 855.8,941.9 856.6,942.6 857.3,943.2 858.1,943.8 858.9,944.3 859.7,944.7 860.5,945.0 861.2,945.1 861.9,945.1 862.7,944.9 863.5,944.7 864.2,944.4 865.0,944.1 865.8,943.9 866.6,943.6 867.4,943.4 868.2,943.4 869.0,943.4 869.8,943.6 870.6,944.0 871.4,944.6 872.2,945.4 872.9,946.3 873.7,947.4 874.5,948.6 875.3,949.8 876.0,951.1 876.8,952.4 877.6,953.6 878.4,954.9 879.1,956.0 879.9,957.1 880.7,958.0 881.5,958.8 882.3,959.6 883.1,960.4 883.9,961.2 884.7,961.9 885.5,962.5 886.3,963.2 887.1,963.8 887.8,964.3 888.6,964.8 889.4,965.3 890.1,965.8 890.8,966.2 891.6,966.7 892.4,967.1 893.2,967.5 894.0,967.8 894.8,968.1 895.5,968.4 896.3,968.5 897.0,968.6 897.7,968.6 898.3,968.5 899.0,968.3 899.9,967.9 900.7,967.5 901.5,966.9 902.3,966.2 903.0,965.2 903.7,963.9 904.4,962.3 905.0,960.2 905.8,956.7 906.4,952.5 907.0,947.6 907.6,942.5 908.2,937.1 909.0,931.8 909.7,927.7 910.4,923.2 911.1,918.6 911.9,914.0 912.7,909.4 913.5,905.0 914.3,901.0 915.0,897.4 915.7,893.9 916.4,890.9 917.1,888.3 917.7,885.9" stroke="#f23645" stroke-width="3.8" fill="none" stroke-linejoin="round" stroke-linecap="butt"/>
<polyline points="917.7,885.9 918.4,883.6 919.2,881.4 920.0,879.2 920.6,877.6 921.3,876.0 922.1,874.4 922.8,872.9 923.6,871.4 924.4,870.0 925.1,868.6 925.9,867.3 926.6,866.1 927.3,865.0 928.1,863.7 928.9,862.4 929.7,861.2 930.4,860.2 931.2,859.3 931.9,858.6 932.7,858.2 933.4,858.0 934.1,858.1 934.8,858.5 935.5,859.0 936.1,859.8 936.8,860.8 937.6,862.0 938.4,863.4 939.4,865.0 940.1,866.2 940.8,867.7 941.6,869.3 942.4,871.1 943.2,873.0 944.1,875.0 944.9,876.9 945.8,878.8 946.6,880.6 947.4,882.1 948.2,883.5 948.9,884.6 949.6,885.3 950.5,885.9 951.3,885.9 952.1,885.4 952.7,884.5 953.4,883.4 954.1,882.1 954.8,880.6 955.6,879.2 956.3,878.1 957.0,876.7 957.7,875.2 958.5,873.5 959.3,871.8 960.0,870.1 960.8,868.4 961.6,866.8 962.3,865.3 963.0,864.1 963.7,863.0 964.5,861.8 965.3,860.9 966.0,860.1 966.7,859.5 967.4,859.1 968.2,858.9 969.0,858.8 969.8,859.0 970.5,859.2 971.2,859.6 971.9,860.0 972.6,860.6 973.4,861.2 974.2,862.0 974.9,862.8 975.7,863.8 976.5,864.8 977.3,865.8 978.0,867.0 978.7,868.3 979.4,869.6 980.1,871.1 980.8,872.6 981.4,874.3 982.1,876.0 982.8,877.8 983.5,879.6 984.3,881.5 985.1,883.4 986.0,885.3 986.6,886.7 987.3,888.3" stroke="#2962ff" stroke-width="3.8" fill="none" stroke-linejoin="round" stroke-linecap="butt"/>
<polyline points="987.3,888.3 988.1,889.9 988.8,891.7 989.6,893.5 990.4,895.3 991.2,897.2 992.0,899.0 992.8,900.7 993.6,902.5 994.4,904.0 995.2,905.5 995.9,906.8 996.7,908.0 997.4,908.9 998.0,909.6 998.9,910.2 999.7,910.3 1000.5,910.1 1001.2,909.6 1001.9,908.9 1002.6,908.0 1003.2,907.0 1003.9,906.0 1004.6,905.0 1005.3,904.2 1006.0,903.5 1006.7,902.9 1007.5,902.3 1008.2,901.8 1009.0,901.2 1009.8,900.6 1010.5,900.0 1011.3,899.4 1012.0,898.8 1012.8,898.3 1013.6,897.8 1014.3,897.4 1015.1,897.0 1015.8,896.7 1016.6,896.5 1017.3,896.3 1018.1,896.2 1018.9,896.0 1019.6,895.8 1020.3,895.6 1021.1,895.3 1021.7,894.9 1022.4,894.4 1023.2,893.6 1024.0,892.7 1024.7,891.8 1025.5,890.7 1026.2,889.5 1026.9,888.2 1027.7,886.8" stroke="#f23645" stroke-width="3.8" fill="none" stroke-linejoin="round" stroke-linecap="butt"/>
<polyline points="1027.7,886.8 1028.5,885.3 1029.2,884.0 1029.9,882.6 1030.6,881.0 1031.4,879.4 1032.2,877.7 1032.9,876.0 1033.7,874.3 1034.5,872.8 1035.2,871.3 1035.9,870.0 1036.6,869.0 1037.4,867.8 1038.2,866.9 1038.9,866.1 1039.7,865.5 1040.4,865.1 1041.1,864.9 1041.9,864.8 1042.7,865.0 1043.4,865.2 1044.0,865.6 1044.7,866.1 1045.4,866.7 1046.1,867.4 1046.9,868.1 1047.6,869.0 1048.4,869.9 1049.2,870.9 1050.0,871.9 1050.8,873.0 1051.5,874.0 1052.3,875.1 1053.1,876.3 1053.9,877.5 1054.7,878.8 1055.5,880.1 1056.3,881.5 1057.1,882.9 1058.0,884.2 1058.8,885.6 1059.5,886.9 1060.3,888.1" stroke="#2962ff" stroke-width="3.8" fill="none" stroke-linejoin="round" stroke-linecap="butt"/>
<polyline points="1060.3,888.1 1061.0,889.3 1061.8,890.6 1062.6,892.0 1063.3,893.3 1064.0,894.6 1064.7,895.9 1065.4,897.2 1066.0,898.4 1066.7,899.5 1067.5,900.6 1068.2,901.6 1069.0,902.5 1069.7,903.2 1070.4,903.8 1071.1,904.3 1071.9,904.8 1072.6,905.2 1073.3,905.6 1074.1,905.9 1074.9,906.3 1075.7,906.7 1076.5,907.1 1077.3,907.5 1078.1,908.0 1079.0,908.5 1079.7,909.0 1080.4,909.5 1081.2,910.0 1081.9,910.5 1082.7,911.0 1083.5,911.6 1084.2,912.2 1085.0,912.7 1085.8,913.3 1086.6,913.9 1087.4,914.5 1088.2,915.1 1089.0,915.7 1089.8,916.3 1090.5,917.0 1091.3,917.6 1092.1,918.2 1092.8,918.9 1093.6,919.6 1094.3,920.3 1095.0,921.1 1095.8,921.8 1096.5,922.6 1097.2,923.3 1098.0,924.1 1098.7,924.8 1099.5,925.5 1100.2,926.2 1101.0,926.9 1101.8,927.6 1102.6,928.2 1103.4,928.8 1104.1,929.3 1104.9,929.8 1105.7,930.4 1106.5,930.9 1107.3,931.5 1108.1,932.0 1108.9,932.5 1109.7,933.0 1110.5,933.5 1111.3,933.9 1112.1,934.4 1112.9,934.7 1113.7,935.1 1114.5,935.4 1115.3,935.6 1116.1,935.8 1116.9,935.9 1117.6,935.9 1118.4,935.8 1119.2,935.6 1120.0,935.3 1120.8,934.9 1121.6,934.4 1122.4,933.8 1123.1,933.2 1123.9,932.6 1124.7,932.0 1125.4,931.3 1126.1,930.7 1126.9,930.2 1127.6,929.7 1128.3,929.3 1129.0,929.0 1129.7,928.8 1130.5,928.8 1131.3,929.0 1132.1,929.4 1132.9,929.9 1133.6,930.6 1134.4,931.2 1135.1,931.8 1135.9,932.3 1136.6,932.7 1137.4,932.9 1138.2,932.9 1139.0,932.5 1139.8,931.8 1140.5,931.0 1141.3,929.9 1142.0,928.7 1142.8,927.3 1143.7,925.7 1144.5,924.1 1145.3,922.3 1146.2,920.5 1147.0,918.6 1147.8,916.7 1148.6,914.7 1149.3,912.8 1150.1,910.8 1150.8,909.0 1151.4,907.2 1152.0,905.5 1153.0,902.2 1153.9,898.8 1154.7,895.4 1155.4,892.0 1156.0,888.6 1156.6,885.3" stroke="#f23645" stroke-width="3.8" fill="none" stroke-linejoin="round" stroke-linecap="butt"/>
<polyline points="1156.6,885.3 1157.3,882.2 1158.0,879.2 1158.7,876.3 1159.4,873.5 1160.2,870.7 1160.9,868.0 1161.6,865.5 1162.3,863.1 1163.1,861.0 1164.0,859.0 1164.7,857.7 1165.4,856.5 1166.1,855.3 1166.9,854.2 1167.7,853.3 1168.5,852.4 1169.3,851.6 1170.1,851.0 1170.8,850.4 1171.5,850.1 1172.2,849.8 1173.0,849.6 1173.8,849.6 1174.6,849.8 1175.3,850.2 1176.0,850.9 1176.7,851.9 1177.5,853.2 1178.3,855.0 1179.0,856.6 1179.7,858.4 1180.4,860.5 1181.2,862.8 1182.0,865.3 1182.7,867.8 1183.5,870.5 1184.3,873.2 1185.0,875.9 1185.7,878.6 1186.4,881.2 1187.2,884.9 1188.0,888.9" stroke="#2962ff" stroke-width="3.8" fill="none" stroke-linejoin="round" stroke-linecap="butt"/>
<polyline points="1188.0,888.9 1188.7,893.0 1189.3,897.2 1190.0,901.2 1190.7,905.0 1191.6,908.6 1192.5,911.6 1193.2,913.3 1193.9,914.9 1194.6,916.4 1195.4,917.9 1196.3,919.2 1197.1,920.5 1198.0,921.6 1198.8,922.6 1199.7,923.5 1200.5,924.3 1201.2,924.9 1201.9,925.4 1202.6,925.7 1203.5,925.8 1204.4,925.4 1205.1,924.6 1205.8,923.5 1206.4,922.2 1207.1,920.7 1207.9,919.1 1208.7,917.6 1209.4,916.4 1210.1,915.1 1210.8,913.6 1211.5,912.0 1212.2,910.4 1213.0,908.7 1213.8,907.1 1214.5,905.5 1215.3,904.0 1216.1,902.7 1216.8,901.5 1217.5,900.5 1218.3,899.6 1219.0,898.7 1219.7,898.0 1220.5,897.3 1221.2,896.7 1222.0,896.1 1222.7,895.5 1223.4,894.8 1224.2,894.1 1224.9,893.4 1225.7,892.6 1226.4,891.7 1227.2,890.8 1228.0,889.9 1228.8,888.9 1229.6,888.0 1230.4,887.1" stroke="#f23645" stroke-width="3.8" fill="none" stroke-linejoin="round" stroke-linecap="butt"/>
<polyline points="1230.4,887.1 1231.1,886.3 1231.8,885.5 1232.4,884.9 1233.0,884.3 1233.9,883.4 1234.5,882.7 1235.1,882.2 1235.6,881.9 1236.2,881.9 1237.0,882.2 1237.6,882.6 1238.2,883.1 1238.8,883.8 1239.5,884.6 1240.2,885.4 1241.0,886.3 1241.7,887.3" stroke="#2962ff" stroke-width="3.8" fill="none" stroke-linejoin="round" stroke-linecap="butt"/>
<polyline points="1241.7,887.3 1242.5,888.3 1243.3,889.3 1244.2,890.3 1244.9,891.1 1245.6,892.0 1246.3,893.0 1247.1,894.1 1247.9,895.1 1248.7,896.2 1249.5,897.2 1250.3,898.2 1251.1,899.2 1251.9,900.0 1252.7,900.6 1253.5,901.2 1254.3,901.5 1255.1,901.6 1255.9,901.5 1256.7,901.3 1257.5,900.9 1258.4,900.4 1259.2,899.8 1260.0,899.1 1260.8,898.5 1261.6,897.9 1262.3,897.4 1263.1,896.9 1263.8,896.6 1264.4,896.4 1265.3,896.2 1266.0,896.1 1266.6,896.0 1267.2,896.1 1267.8,896.4 1268.5,897.0 1269.4,898.0 1270.5,899.4 1271.1,900.3 1271.7,901.3 1272.4,902.5 1273.2,903.9 1274.0,905.4 1274.8,907.0 1275.6,908.6 1276.5,910.3 1277.4,912.0 1278.2,913.7 1279.1,915.3 1280.0,916.9 1280.8,918.4 1281.7,919.8 1282.5,921.0 1283.3,922.1 1284.0,923.0 1284.7,923.7 1285.6,924.3 1286.5,924.6 1287.4,924.7 1288.2,924.5 1289.0,924.2 1289.8,923.7 1290.5,923.1 1291.2,922.5 1292.0,921.8 1292.7,921.1 1293.4,920.5 1294.1,920.1 1294.8,919.7 1295.6,919.4 1296.4,919.3 1297.1,919.2 1297.8,919.2 1298.5,919.1 1299.2,919.0 1299.9,918.9 1300.6,918.6 1301.3,918.1 1302.1,917.5 1302.9,916.6 1303.6,915.6 1304.3,914.5 1305.1,913.1 1305.9,911.7 1306.6,910.1 1307.4,908.5 1308.2,906.8 1309.0,905.1 1309.8,903.4 1310.6,901.7 1311.4,900.2 1312.2,898.7 1313.0,897.4 1313.8,896.2 1314.5,895.0 1315.3,893.9 1316.0,892.8 1316.7,891.8 1317.5,890.8 1318.2,889.8 1319.0,888.8 1319.8,887.9 1320.5,887.0" stroke="#f23645" stroke-width="3.8" fill="none" stroke-linejoin="round" stroke-linecap="butt"/>
<polyline points="1320.5,887.0 1321.3,886.1 1322.2,885.2 1323.0,884.3 1323.7,883.6 1324.5,882.9 1325.2,882.2 1326.0,881.5 1326.8,880.8 1327.6,880.1 1328.4,879.5 1329.3,878.8 1330.1,878.2 1330.9,877.6 1331.7,877.0 1332.5,876.4 1333.2,875.8 1333.9,875.2 1334.6,874.6 1335.3,874.1 1336.2,873.3 1337.0,872.6 1337.8,871.8 1338.6,871.1 1339.3,870.4 1340.0,869.8 1340.6,869.1 1341.3,868.6 1342.0,868.0 1342.7,867.5 1343.4,867.0 1344.1,866.5 1344.9,866.0 1345.7,865.4 1346.4,864.9 1347.2,864.4 1348.0,864.0 1348.7,863.7 1349.4,863.5 1350.2,863.5 1350.8,863.6 1351.5,864.0 1352.4,864.8 1353.2,866.0 1354.0,867.5 1354.8,869.2 1355.5,871.0 1356.2,873.0 1356.9,875.1 1357.5,877.2 1358.2,880.0 1358.9,883.0 1359.4,886.2 1360.0,889.6" stroke="#2962ff" stroke-width="3.8" fill="none" stroke-linejoin="round" stroke-linecap="butt"/>
<polyline points="1360.0,889.6 1360.7,893.3 1361.6,897.4 1362.2,900.0 1362.9,903.1 1363.6,906.5 1364.3,910.1 1365.1,913.8 1365.9,917.3 1366.7,920.6 1367.5,923.6 1368.3,926.0 1369.0,927.8 1369.7,928.8 1370.6,928.9 1371.4,927.7 1372.2,925.6 1373.0,922.8 1373.7,919.6 1374.4,916.1 1375.1,912.7 1375.7,909.6 1376.5,905.6 1377.1,901.2 1377.7,896.6 1378.4,892.0 1379.0,887.4 1379.8,883.2" stroke="#f23645" stroke-width="3.8" fill="none" stroke-linejoin="round" stroke-linecap="butt"/>
<polyline points="1379.8,883.2 1380.4,880.1 1381.0,877.1 1381.7,874.1 1382.4,871.2 1383.1,868.3 1383.9,865.7 1384.8,863.2 1385.9,861.0 1386.5,860.0 1387.1,859.1 1387.8,858.2 1388.6,857.4 1389.3,856.7 1390.1,856.0 1390.9,855.3 1391.7,854.7 1392.5,854.1 1393.4,853.5 1394.2,852.9 1395.0,852.3 1395.8,851.7 1396.5,851.1 1397.3,850.5 1398.0,849.8 1398.8,848.9 1399.6,848.1 1400.4,847.3 1401.2,846.4 1401.9,845.6 1402.6,844.8 1403.4,844.0 1404.1,843.1 1404.8,842.3 1405.6,841.4 1406.4,840.5 1407.2,839.6 1408.0,838.7 1408.7,837.9 1409.4,837.1 1410.2,836.3 1410.9,835.4 1411.7,834.5 1412.5,833.6 1413.2,832.7 1414.0,831.8 1414.8,831.0 1415.6,830.1 1416.4,829.2 1417.2,828.4 1418.0,827.6 1418.8,826.9 1419.5,826.2 1420.3,825.5 1421.1,824.9 1421.8,824.3 1422.6,823.7 1423.3,823.2 1424.1,822.7 1424.8,822.2 1425.6,821.7 1426.4,821.3 1427.1,820.9 1427.9,820.5 1428.6,820.1 1429.4,819.8 1430.1,819.4 1430.9,819.1 1431.6,818.8 1432.4,818.5 1433.2,818.2 1434.0,817.9 1434.8,817.7 1435.6,817.4 1436.4,817.2 1437.2,816.9 1438.1,816.7 1438.9,816.6 1439.7,816.4 1440.5,816.3 1441.2,816.2 1442.0,816.2 1442.7,816.2 1443.4,816.2 1444.0,816.3 1444.6,816.4 1445.6,816.8 1446.5,817.2 1447.3,817.8 1448.0,818.5 1448.6,819.4 1449.2,820.5 1449.9,821.9 1450.6,823.5 1451.3,825.6 1452.0,828.3 1452.7,831.3 1453.5,834.5 1454.2,837.7 1455.0,840.6 1455.8,843.0 1456.7,844.8 1457.4,845.5 1458.1,845.9 1458.9,846.1 1459.7,846.0 1460.5,845.7 1461.3,845.4 1462.1,845.1 1463.0,844.9 1463.7,844.7 1464.5,844.8 1465.2,845.1 1465.8,845.8 1466.7,847.6 1467.6,849.9 1468.3,852.6 1469.0,855.6 1469.6,858.8 1470.3,861.9 1470.9,865.0 1471.6,868.5 1472.3,872.2 1472.9,876.0 1473.5,879.8 1474.2,883.5 1475.0,887.3" stroke="#2962ff" stroke-width="3.8" fill="none" stroke-linejoin="round" stroke-linecap="butt"/>
<polyline points="1475.0,887.3 1475.6,890.1 1476.3,892.9 1476.9,895.8 1477.6,898.6 1478.4,901.4 1479.2,904.2 1480.0,906.9 1481.0,909.6 1481.6,911.2 1482.3,912.8 1483.0,914.4 1483.7,916.0 1484.5,917.5 1485.2,919.1 1486.0,920.6 1486.8,922.1 1487.6,923.7 1488.5,925.2 1489.3,926.7 1490.1,928.3 1491.0,929.8 1491.7,931.1 1492.4,932.4 1493.2,933.8 1494.0,935.2 1494.7,936.6 1495.5,938.0 1496.3,939.4 1497.1,940.8 1497.9,942.1 1498.7,943.5 1499.5,944.7 1500.3,945.9 1501.1,947.1 1501.9,948.1 1502.6,949.1 1503.3,950.0 1504.1,950.9 1505.0,951.7 1505.8,952.4 1506.6,952.9 1507.3,953.4 1508.1,953.8 1508.9,954.2 1509.6,954.5 1510.4,954.8 1511.1,955.0 1511.9,955.4 1512.6,955.7 1513.4,956.1 1514.2,956.5 1515.0,957.0 1515.8,957.4 1516.5,957.8 1517.3,958.2 1518.1,958.6 1518.9,959.0 1519.7,959.4 1520.5,959.8 1521.2,960.2 1522.0,960.5 1522.8,960.9 1523.5,961.2 1524.3,961.6 1525.1,962.0 1525.9,962.4 1526.7,962.8 1527.5,963.2 1528.2,963.5 1529.0,963.8 1529.8,964.1 1530.5,964.3 1531.2,964.4 1531.9,964.3 1532.6,964.2 1533.5,963.8 1534.3,963.3 1535.2,962.7 1535.9,961.9 1536.7,961.0 1537.5,960.0 1538.2,958.8 1539.0,957.5 1539.7,956.1 1540.5,954.4 1541.2,952.5 1542.0,950.4 1542.7,948.1 1543.4,945.8 1544.2,943.3 1544.9,940.6 1545.8,937.9 1546.4,935.8 1547.1,933.6 1547.8,931.3 1548.4,928.9 1549.1,926.5 1549.8,924.0 1550.6,921.5 1551.3,919.0 1552.2,916.5 1553.0,914.0 1553.9,911.6 1554.6,909.9 1555.2,908.2 1556.0,906.5 1556.7,904.8 1557.5,903.0 1558.3,901.3 1559.1,899.6 1560.0,897.8 1560.8,896.1 1561.6,894.4 1562.4,892.8 1563.2,891.2 1563.9,889.6 1564.7,888.1 1565.3,886.7" stroke="#f23645" stroke-width="3.8" fill="none" stroke-linejoin="round" stroke-linecap="butt"/>
<polyline points="1565.3,886.7 1566.0,885.3 1566.9,883.4 1567.7,881.7 1568.4,880.0 1569.2,878.5 1569.8,877.0 1570.5,875.6 1571.2,874.2 1571.8,872.9 1572.6,871.6 1573.3,870.3 1574.1,869.0 1574.8,867.9 1575.6,866.8 1576.3,865.8 1577.1,864.8 1577.9,863.8 1578.7,862.8 1579.5,861.8 1580.3,860.9 1581.1,860.0 1581.9,859.2 1582.7,858.4 1583.5,857.7 1584.3,857.0 1585.1,856.3 1585.8,855.7 1586.6,855.0 1587.3,854.4 1588.1,853.8 1588.9,853.3 1589.6,852.8 1590.4,852.4 1591.1,852.0 1591.9,851.8 1592.7,851.7 1593.6,851.7 1594.4,851.9 1595.1,852.2 1595.8,852.6 1596.6,853.2 1597.4,853.9 1598.2,854.7 1599.0,855.6 1599.8,856.6 1600.6,857.5 1601.4,858.5 1602.2,859.4 1602.9,860.3 1603.7,861.0 1604.5,861.7 1605.2,862.3 1605.8,862.7 1606.5,863.0 1607.4,863.1 1608.2,863.0 1608.9,862.8 1609.7,862.3 1610.3,861.8 1611.0,861.1 1611.7,860.4 1612.4,859.5 1613.1,858.7 1613.8,857.8 1614.6,857.0 1615.3,856.2 1616.0,855.4 1616.8,854.5 1617.6,853.5 1618.3,852.5 1619.1,851.4 1619.9,850.4 1620.7,849.3 1621.5,848.3 1622.3,847.3 1623.1,846.4 1623.9,845.6 1624.7,844.8 1625.5,844.1 1626.3,843.5 1627.2,842.9 1628.0,842.3 1628.9,841.8 1629.8,841.3 1630.6,840.9 1631.4,840.5 1632.2,840.1 1633.0,839.7 1633.7,839.4 1634.3,839.0 1634.9,838.7 1636.0,838.1 1636.9,837.7 1637.6,837.3 1638.2,837.1 1638.6,836.9 1639.0,836.7" stroke="#2962ff" stroke-width="3.8" fill="none" stroke-linejoin="round" stroke-linecap="butt"/>
</g>
<g clip-path="url(#ch)">
<rect x="3" y="1086" width="4" height="68" fill="#f23645"/>
<rect x="7" y="1086" width="4" height="68" fill="#f23645"/>
<rect x="11" y="1086" width="4" height="68" fill="#f23645"/>
<rect x="16" y="1086" width="4" height="68" fill="#f23645"/>
<rect x="20" y="1086" width="4" height="68" fill="#f23645"/>
<rect x="25" y="1086" width="4" height="68" fill="#f23645"/>
<rect x="29" y="1086" width="4" height="68" fill="#f23645"/>
<rect x="33" y="1086" width="4" height="68" fill="#f23645"/>
<rect x="38" y="1086" width="4" height="68" fill="#f23645"/>
<rect x="42" y="1086" width="4" height="68" fill="#f23645"/>
<rect x="47" y="1086" width="4" height="68" fill="#f23645"/>
<rect x="51" y="1086" width="4" height="68" fill="#f23645"/>
<rect x="55" y="1086" width="4" height="68" fill="#f23645"/>
<rect x="60" y="1086" width="4" height="68" fill="#f23645"/>
<rect x="64" y="1086" width="4" height="68" fill="#f23645"/>
<rect x="69" y="1086" width="4" height="68" fill="#f23645"/>
<rect x="73" y="1086" width="4" height="68" fill="#f23645"/>
<rect x="77" y="1086" width="4" height="68" fill="#f23645"/>
<rect x="82" y="1086" width="4" height="68" fill="#f23645"/>
<rect x="86" y="1086" width="4" height="68" fill="#f23645"/>
<rect x="91" y="1086" width="4" height="68" fill="#f23645"/>
<rect x="95" y="1086" width="4" height="68" fill="#f23645"/>
<rect x="99" y="1086" width="4" height="68" fill="#f23645"/>
<rect x="104" y="1086" width="4" height="68" fill="#f23645"/>
<rect x="108" y="1086" width="4" height="68" fill="#f23645"/>
<rect x="113" y="1086" width="4" height="68" fill="#f23645"/>
<rect x="117" y="1086" width="4" height="68" fill="#f23645"/>
<rect x="121" y="1086" width="4" height="68" fill="#f23645"/>
<rect x="126" y="1086" width="4" height="68" fill="#f23645"/>
<rect x="130" y="1086" width="4" height="68" fill="#f23645"/>
<rect x="135" y="1086" width="4" height="68" fill="#f23645"/>
<rect x="139" y="1086" width="4" height="68" fill="#f23645"/>
<rect x="143" y="1086" width="4" height="68" fill="#f23645"/>
<rect x="148" y="1086" width="4" height="68" fill="#f23645"/>
<rect x="152" y="1086" width="4" height="68" fill="#f23645"/>
<rect x="157" y="1086" width="4" height="68" fill="#f23645"/>
<rect x="161" y="1086" width="4" height="68" fill="#f23645"/>
<rect x="165" y="1017" width="4" height="69" fill="#4caf50"/>
<rect x="170" y="1017" width="4" height="69" fill="#4caf50"/>
<rect x="174" y="1017" width="4" height="69" fill="#4caf50"/>
<rect x="179" y="1017" width="4" height="69" fill="#4caf50"/>
<rect x="183" y="1017" width="4" height="69" fill="#4caf50"/>
<rect x="187" y="1017" width="4" height="69" fill="#4caf50"/>
<rect x="192" y="1017" width="4" height="69" fill="#4caf50"/>
<rect x="196" y="1017" width="4" height="69" fill="#4caf50"/>
<rect x="201" y="1017" width="4" height="69" fill="#4caf50"/>
<rect x="205" y="1017" width="4" height="69" fill="#4caf50"/>
<rect x="209" y="1017" width="4" height="69" fill="#4caf50"/>
<rect x="214" y="1017" width="4" height="69" fill="#4caf50"/>
<rect x="218" y="1017" width="4" height="69" fill="#4caf50"/>
<rect x="223" y="1017" width="4" height="69" fill="#4caf50"/>
<rect x="227" y="1086" width="4" height="34" fill="#787b86"/>
<rect x="231" y="1086" width="4" height="34" fill="#787b86"/>
<rect x="236" y="1086" width="4" height="34" fill="#787b86"/>
<rect x="240" y="1086" width="4" height="34" fill="#787b86"/>
<rect x="245" y="1086" width="4" height="34" fill="#787b86"/>
<rect x="249" y="1086" width="4" height="34" fill="#787b86"/>
<rect x="254" y="1086" width="4" height="34" fill="#787b86"/>
<rect x="258" y="1086" width="4" height="34" fill="#787b86"/>
<rect x="262" y="1086" width="4" height="34" fill="#787b86"/>
<rect x="267" y="1086" width="4" height="34" fill="#787b86"/>
<rect x="271" y="1086" width="4" height="34" fill="#787b86"/>
<rect x="276" y="1086" width="4" height="34" fill="#787b86"/>
<rect x="280" y="1086" width="4" height="34" fill="#787b86"/>
<rect x="284" y="1086" width="4" height="68" fill="#f23645"/>
<rect x="289" y="1086" width="4" height="68" fill="#f23645"/>
<rect x="293" y="1086" width="4" height="68" fill="#f23645"/>
<rect x="298" y="1086" width="4" height="68" fill="#f23645"/>
<rect x="302" y="1086" width="4" height="68" fill="#f23645"/>
<rect x="306" y="1086" width="4" height="68" fill="#f23645"/>
<rect x="311" y="1086" width="4" height="68" fill="#f23645"/>
<rect x="315" y="1051" width="4" height="35" fill="#787b86"/>
<rect x="320" y="1051" width="4" height="35" fill="#787b86"/>
<rect x="324" y="1051" width="4" height="35" fill="#787b86"/>
<rect x="328" y="1051" width="4" height="35" fill="#787b86"/>
<rect x="333" y="1051" width="4" height="35" fill="#787b86"/>
<rect x="337" y="1051" width="4" height="35" fill="#787b86"/>
<rect x="342" y="1051" width="4" height="35" fill="#787b86"/>
<rect x="346" y="1051" width="4" height="35" fill="#787b86"/>
<rect x="350" y="1051" width="4" height="35" fill="#787b86"/>
<rect x="355" y="1086" width="4" height="68" fill="#f23645"/>
<rect x="359" y="1086" width="4" height="68" fill="#f23645"/>
<rect x="364" y="1086" width="4" height="68" fill="#f23645"/>
<rect x="368" y="1086" width="4" height="68" fill="#f23645"/>
<rect x="372" y="1086" width="4" height="68" fill="#f23645"/>
<rect x="377" y="1086" width="4" height="68" fill="#f23645"/>
<rect x="381" y="1086" width="4" height="68" fill="#f23645"/>
<rect x="386" y="1086" width="4" height="68" fill="#f23645"/>
<rect x="390" y="1086" width="4" height="68" fill="#f23645"/>
<rect x="394" y="1086" width="4" height="68" fill="#f23645"/>
<rect x="399" y="1086" width="4" height="68" fill="#f23645"/>
<rect x="403" y="1086" width="4" height="68" fill="#f23645"/>
<rect x="408" y="1051" width="4" height="35" fill="#787b86"/>
<rect x="412" y="1051" width="4" height="35" fill="#787b86"/>
<rect x="416" y="1051" width="4" height="35" fill="#787b86"/>
<rect x="421" y="1051" width="4" height="35" fill="#787b86"/>
<rect x="425" y="1051" width="4" height="35" fill="#787b86"/>
<rect x="430" y="1051" width="4" height="35" fill="#787b86"/>
<rect x="434" y="1051" width="4" height="35" fill="#787b86"/>
<rect x="438" y="1051" width="4" height="35" fill="#787b86"/>
<rect x="443" y="1051" width="4" height="35" fill="#787b86"/>
<rect x="447" y="1086" width="4" height="68" fill="#f23645"/>
<rect x="452" y="1086" width="4" height="68" fill="#f23645"/>
<rect x="456" y="1086" width="4" height="68" fill="#f23645"/>
<rect x="460" y="1086" width="4" height="68" fill="#f23645"/>
<rect x="465" y="1086" width="4" height="68" fill="#f23645"/>
<rect x="469" y="1086" width="4" height="68" fill="#f23645"/>
<rect x="474" y="1051" width="4" height="35" fill="#787b86"/>
<rect x="478" y="1051" width="4" height="35" fill="#787b86"/>
<rect x="482" y="1051" width="4" height="35" fill="#787b86"/>
<rect x="487" y="1017" width="4" height="69" fill="#4caf50"/>
<rect x="491" y="1017" width="4" height="69" fill="#4caf50"/>
<rect x="496" y="1017" width="4" height="69" fill="#4caf50"/>
<rect x="500" y="1017" width="4" height="69" fill="#4caf50"/>
<rect x="504" y="1017" width="4" height="69" fill="#4caf50"/>
<rect x="509" y="1017" width="4" height="69" fill="#4caf50"/>
<rect x="513" y="1017" width="4" height="69" fill="#4caf50"/>
<rect x="518" y="1017" width="4" height="69" fill="#4caf50"/>
<rect x="522" y="1017" width="4" height="69" fill="#4caf50"/>
<rect x="526" y="1017" width="4" height="69" fill="#4caf50"/>
<rect x="531" y="1017" width="4" height="69" fill="#4caf50"/>
<rect x="535" y="1017" width="4" height="69" fill="#4caf50"/>
<rect x="540" y="1017" width="4" height="69" fill="#4caf50"/>
<rect x="544" y="1017" width="4" height="69" fill="#4caf50"/>
<rect x="548" y="1017" width="4" height="69" fill="#4caf50"/>
<rect x="553" y="1017" width="4" height="69" fill="#4caf50"/>
<rect x="557" y="1017" width="4" height="69" fill="#4caf50"/>
<rect x="562" y="1017" width="4" height="69" fill="#4caf50"/>
<rect x="566" y="1017" width="4" height="69" fill="#4caf50"/>
<rect x="570" y="1017" width="4" height="69" fill="#4caf50"/>
<rect x="575" y="1017" width="4" height="69" fill="#4caf50"/>
<rect x="579" y="1017" width="4" height="69" fill="#4caf50"/>
<rect x="584" y="1017" width="4" height="69" fill="#4caf50"/>
<rect x="588" y="1017" width="4" height="69" fill="#4caf50"/>
<rect x="593" y="1017" width="4" height="69" fill="#4caf50"/>
<rect x="597" y="1017" width="4" height="69" fill="#4caf50"/>
<rect x="601" y="1017" width="4" height="69" fill="#4caf50"/>
<rect x="606" y="1017" width="4" height="69" fill="#4caf50"/>
<rect x="610" y="1017" width="4" height="69" fill="#4caf50"/>
<rect x="615" y="1017" width="4" height="69" fill="#4caf50"/>
<rect x="619" y="1017" width="4" height="69" fill="#4caf50"/>
<rect x="623" y="1017" width="4" height="69" fill="#4caf50"/>
<rect x="628" y="1017" width="4" height="69" fill="#4caf50"/>
<rect x="632" y="1017" width="4" height="69" fill="#4caf50"/>
<rect x="637" y="1017" width="4" height="69" fill="#4caf50"/>
<rect x="641" y="1017" width="4" height="69" fill="#4caf50"/>
<rect x="645" y="1017" width="4" height="69" fill="#4caf50"/>
<rect x="650" y="1017" width="4" height="69" fill="#4caf50"/>
<rect x="654" y="1017" width="4" height="69" fill="#4caf50"/>
<rect x="659" y="1017" width="4" height="69" fill="#4caf50"/>
<rect x="663" y="1017" width="4" height="69" fill="#4caf50"/>
<rect x="667" y="1017" width="4" height="69" fill="#4caf50"/>
<rect x="672" y="1017" width="4" height="69" fill="#4caf50"/>
<rect x="676" y="1017" width="4" height="69" fill="#4caf50"/>
<rect x="681" y="1017" width="4" height="69" fill="#4caf50"/>
<rect x="685" y="1017" width="4" height="69" fill="#4caf50"/>
<rect x="689" y="1017" width="4" height="69" fill="#4caf50"/>
<rect x="694" y="1017" width="4" height="69" fill="#4caf50"/>
<rect x="698" y="1017" width="4" height="69" fill="#4caf50"/>
<rect x="703" y="1017" width="4" height="69" fill="#4caf50"/>
<rect x="707" y="1017" width="4" height="69" fill="#4caf50"/>
<rect x="711" y="1017" width="4" height="69" fill="#4caf50"/>
<rect x="716" y="1017" width="4" height="69" fill="#4caf50"/>
<rect x="720" y="1017" width="4" height="69" fill="#4caf50"/>
<rect x="725" y="1017" width="4" height="69" fill="#4caf50"/>
<rect x="729" y="1017" width="4" height="69" fill="#4caf50"/>
<rect x="733" y="1017" width="4" height="69" fill="#4caf50"/>
<rect x="738" y="1017" width="4" height="69" fill="#4caf50"/>
<rect x="742" y="1017" width="4" height="69" fill="#4caf50"/>
<rect x="747" y="1017" width="4" height="69" fill="#4caf50"/>
<rect x="751" y="1017" width="4" height="69" fill="#4caf50"/>
<rect x="755" y="1017" width="4" height="69" fill="#4caf50"/>
<rect x="760" y="1017" width="4" height="69" fill="#4caf50"/>
<rect x="764" y="1017" width="4" height="69" fill="#4caf50"/>
<rect x="769" y="1017" width="4" height="69" fill="#4caf50"/>
<rect x="773" y="1017" width="4" height="69" fill="#4caf50"/>
<rect x="777" y="1017" width="4" height="69" fill="#4caf50"/>
<rect x="782" y="1017" width="4" height="69" fill="#4caf50"/>
<rect x="786" y="1017" width="4" height="69" fill="#4caf50"/>
<rect x="791" y="1017" width="4" height="69" fill="#4caf50"/>
<rect x="795" y="1017" width="4" height="69" fill="#4caf50"/>
<rect x="799" y="1017" width="4" height="69" fill="#4caf50"/>
<rect x="804" y="1017" width="4" height="69" fill="#4caf50"/>
<rect x="808" y="1017" width="4" height="69" fill="#4caf50"/>
<rect x="813" y="1017" width="4" height="69" fill="#4caf50"/>
<rect x="817" y="1017" width="4" height="69" fill="#4caf50"/>
<rect x="821" y="1017" width="4" height="69" fill="#4caf50"/>
<rect x="826" y="1017" width="4" height="69" fill="#4caf50"/>
<rect x="830" y="1017" width="4" height="69" fill="#4caf50"/>
<rect x="835" y="1017" width="4" height="69" fill="#4caf50"/>
<rect x="839" y="1017" width="4" height="69" fill="#4caf50"/>
<rect x="843" y="1017" width="4" height="69" fill="#4caf50"/>
<rect x="848" y="1017" width="4" height="69" fill="#4caf50"/>
<rect x="852" y="1017" width="4" height="69" fill="#4caf50"/>
<rect x="857" y="1086" width="4" height="34" fill="#787b86"/>
<rect x="861" y="1086" width="4" height="34" fill="#787b86"/>
<rect x="865" y="1086" width="4" height="68" fill="#f23645"/>
<rect x="870" y="1086" width="4" height="68" fill="#f23645"/>
<rect x="874" y="1086" width="4" height="68" fill="#f23645"/>
<rect x="879" y="1086" width="4" height="68" fill="#f23645"/>
<rect x="883" y="1086" width="4" height="68" fill="#f23645"/>
<rect x="887" y="1086" width="4" height="68" fill="#f23645"/>
<rect x="892" y="1086" width="4" height="68" fill="#f23645"/>
<rect x="896" y="1086" width="4" height="68" fill="#f23645"/>
<rect x="901" y="1086" width="4" height="68" fill="#f23645"/>
<rect x="905" y="1051" width="4" height="35" fill="#787b86"/>
<rect x="910" y="1051" width="4" height="35" fill="#787b86"/>
<rect x="914" y="1017" width="4" height="69" fill="#4caf50"/>
<rect x="918" y="1017" width="4" height="69" fill="#4caf50"/>
<rect x="923" y="1017" width="4" height="69" fill="#4caf50"/>
<rect x="927" y="1017" width="4" height="69" fill="#4caf50"/>
<rect x="932" y="1017" width="4" height="69" fill="#4caf50"/>
<rect x="936" y="1017" width="4" height="69" fill="#4caf50"/>
<rect x="940" y="1017" width="4" height="69" fill="#4caf50"/>
<rect x="945" y="1017" width="4" height="69" fill="#4caf50"/>
<rect x="949" y="1017" width="4" height="69" fill="#4caf50"/>
<rect x="954" y="1017" width="4" height="69" fill="#4caf50"/>
<rect x="958" y="1017" width="4" height="69" fill="#4caf50"/>
<rect x="962" y="1017" width="4" height="69" fill="#4caf50"/>
<rect x="967" y="1017" width="4" height="69" fill="#4caf50"/>
<rect x="971" y="1017" width="4" height="69" fill="#4caf50"/>
<rect x="976" y="1017" width="4" height="69" fill="#4caf50"/>
<rect x="980" y="1017" width="4" height="69" fill="#4caf50"/>
<rect x="984" y="1017" width="4" height="69" fill="#4caf50"/>
<rect x="989" y="1086" width="4" height="34" fill="#787b86"/>
<rect x="993" y="1086" width="4" height="34" fill="#787b86"/>
<rect x="998" y="1086" width="4" height="34" fill="#787b86"/>
<rect x="1002" y="1086" width="4" height="34" fill="#787b86"/>
<rect x="1006" y="1086" width="4" height="34" fill="#787b86"/>
<rect x="1011" y="1086" width="4" height="34" fill="#787b86"/>
<rect x="1015" y="1086" width="4" height="34" fill="#787b86"/>
<rect x="1020" y="1086" width="4" height="34" fill="#787b86"/>
<rect x="1024" y="1051" width="4" height="35" fill="#787b86"/>
<rect x="1028" y="1051" width="4" height="35" fill="#787b86"/>
<rect x="1033" y="1051" width="4" height="35" fill="#787b86"/>
<rect x="1037" y="1051" width="4" height="35" fill="#787b86"/>
<rect x="1042" y="1051" width="4" height="35" fill="#787b86"/>
<rect x="1046" y="1051" width="4" height="35" fill="#787b86"/>
<rect x="1050" y="1051" width="4" height="35" fill="#787b86"/>
<rect x="1055" y="1051" width="4" height="35" fill="#787b86"/>
<rect x="1059" y="1051" width="4" height="35" fill="#787b86"/>
<rect x="1064" y="1086" width="4" height="34" fill="#787b86"/>
<rect x="1068" y="1086" width="4" height="34" fill="#787b86"/>
<rect x="1072" y="1086" width="4" height="34" fill="#787b86"/>
<rect x="1077" y="1086" width="4" height="34" fill="#787b86"/>
<rect x="1081" y="1086" width="4" height="68" fill="#f23645"/>
<rect x="1086" y="1086" width="4" height="68" fill="#f23645"/>
<rect x="1090" y="1086" width="4" height="68" fill="#f23645"/>
<rect x="1094" y="1086" width="4" height="68" fill="#f23645"/>
<rect x="1099" y="1086" width="4" height="68" fill="#f23645"/>
<rect x="1103" y="1086" width="4" height="68" fill="#f23645"/>
<rect x="1108" y="1086" width="4" height="68" fill="#f23645"/>
<rect x="1112" y="1086" width="4" height="68" fill="#f23645"/>
<rect x="1116" y="1086" width="4" height="68" fill="#f23645"/>
<rect x="1121" y="1086" width="4" height="68" fill="#f23645"/>
<rect x="1125" y="1086" width="4" height="68" fill="#f23645"/>
<rect x="1130" y="1086" width="4" height="68" fill="#f23645"/>
<rect x="1134" y="1086" width="4" height="68" fill="#f23645"/>
<rect x="1138" y="1086" width="4" height="68" fill="#f23645"/>
<rect x="1143" y="1086" width="4" height="68" fill="#f23645"/>
<rect x="1147" y="1086" width="4" height="68" fill="#f23645"/>
<rect x="1152" y="1051" width="4" height="35" fill="#787b86"/>
<rect x="1156" y="1051" width="4" height="35" fill="#787b86"/>
<rect x="1160" y="1051" width="4" height="35" fill="#787b86"/>
<rect x="1165" y="1051" width="4" height="35" fill="#787b86"/>
<rect x="1169" y="1051" width="4" height="35" fill="#787b86"/>
<rect x="1174" y="1051" width="4" height="35" fill="#787b86"/>
<rect x="1178" y="1051" width="4" height="35" fill="#787b86"/>
<rect x="1182" y="1051" width="4" height="35" fill="#787b86"/>
<rect x="1187" y="1051" width="4" height="35" fill="#787b86"/>
<rect x="1191" y="1086" width="4" height="68" fill="#f23645"/>
<rect x="1196" y="1086" width="4" height="68" fill="#f23645"/>
<rect x="1200" y="1086" width="4" height="68" fill="#f23645"/>
<rect x="1204" y="1086" width="4" height="68" fill="#f23645"/>
<rect x="1209" y="1086" width="4" height="68" fill="#f23645"/>
<rect x="1213" y="1086" width="4" height="68" fill="#f23645"/>
<rect x="1218" y="1086" width="4" height="68" fill="#f23645"/>
<rect x="1222" y="1086" width="4" height="68" fill="#f23645"/>
<rect x="1226" y="1086" width="4" height="68" fill="#f23645"/>
<rect x="1231" y="1086" width="4" height="68" fill="#f23645"/>
<rect x="1235" y="1086" width="4" height="68" fill="#f23645"/>
<rect x="1240" y="1086" width="4" height="68" fill="#f23645"/>
<rect x="1244" y="1086" width="4" height="68" fill="#f23645"/>
<rect x="1249" y="1086" width="4" height="68" fill="#f23645"/>
<rect x="1253" y="1086" width="4" height="34" fill="#787b86"/>
<rect x="1257" y="1086" width="4" height="34" fill="#787b86"/>
<rect x="1262" y="1086" width="4" height="34" fill="#787b86"/>
<rect x="1266" y="1086" width="4" height="34" fill="#787b86"/>
<rect x="1271" y="1086" width="4" height="68" fill="#f23645"/>
<rect x="1275" y="1086" width="4" height="68" fill="#f23645"/>
<rect x="1279" y="1086" width="4" height="68" fill="#f23645"/>
<rect x="1284" y="1086" width="4" height="68" fill="#f23645"/>
<rect x="1288" y="1086" width="4" height="68" fill="#f23645"/>
<rect x="1293" y="1086" width="4" height="68" fill="#f23645"/>
<rect x="1297" y="1086" width="4" height="68" fill="#f23645"/>
<rect x="1301" y="1086" width="4" height="68" fill="#f23645"/>
<rect x="1306" y="1051" width="4" height="35" fill="#787b86"/>
<rect x="1310" y="1051" width="4" height="35" fill="#787b86"/>
<rect x="1315" y="1051" width="4" height="35" fill="#787b86"/>
<rect x="1319" y="1051" width="4" height="35" fill="#787b86"/>
<rect x="1323" y="1051" width="4" height="35" fill="#787b86"/>
<rect x="1328" y="1051" width="4" height="35" fill="#787b86"/>
<rect x="1332" y="1086" width="4" height="34" fill="#787b86"/>
<rect x="1337" y="1086" width="4" height="34" fill="#787b86"/>
<rect x="1341" y="1086" width="4" height="34" fill="#787b86"/>
<rect x="1345" y="1086" width="4" height="34" fill="#787b86"/>
<rect x="1350" y="1017" width="4" height="69" fill="#4caf50"/>
<rect x="1354" y="1017" width="4" height="69" fill="#4caf50"/>
<rect x="1359" y="1086" width="4" height="68" fill="#f23645"/>
<rect x="1363" y="1086" width="4" height="68" fill="#f23645"/>
<rect x="1367" y="1086" width="4" height="68" fill="#f23645"/>
<rect x="1372" y="1086" width="4" height="68" fill="#f23645"/>
<rect x="1376" y="1086" width="4" height="34" fill="#787b86"/>
<rect x="1381" y="1086" width="4" height="34" fill="#787b86"/>
<rect x="1385" y="1086" width="4" height="34" fill="#787b86"/>
<rect x="1389" y="1086" width="4" height="34" fill="#787b86"/>
<rect x="1394" y="1086" width="4" height="34" fill="#787b86"/>
<rect x="1398" y="1086" width="4" height="34" fill="#787b86"/>
<rect x="1403" y="1086" width="4" height="34" fill="#787b86"/>
<rect x="1407" y="1086" width="4" height="34" fill="#787b86"/>
<rect x="1411" y="1017" width="4" height="69" fill="#4caf50"/>
<rect x="1416" y="1017" width="4" height="69" fill="#4caf50"/>
<rect x="1420" y="1017" width="4" height="69" fill="#4caf50"/>
<rect x="1425" y="1017" width="4" height="69" fill="#4caf50"/>
<rect x="1429" y="1017" width="4" height="69" fill="#4caf50"/>
<rect x="1433" y="1017" width="4" height="69" fill="#4caf50"/>
<rect x="1438" y="1017" width="4" height="69" fill="#4caf50"/>
<rect x="1442" y="1017" width="4" height="69" fill="#4caf50"/>
<rect x="1447" y="1017" width="4" height="69" fill="#4caf50"/>
<rect x="1451" y="1017" width="4" height="69" fill="#4caf50"/>
<rect x="1455" y="1017" width="4" height="69" fill="#4caf50"/>
<rect x="1460" y="1017" width="4" height="69" fill="#4caf50"/>
<rect x="1464" y="1017" width="4" height="69" fill="#4caf50"/>
<rect x="1469" y="1086" width="4" height="34" fill="#787b86"/>
<rect x="1473" y="1086" width="4" height="34" fill="#787b86"/>
<rect x="1477" y="1086" width="4" height="34" fill="#787b86"/>
<rect x="1482" y="1086" width="4" height="34" fill="#787b86"/>
<rect x="1486" y="1086" width="4" height="34" fill="#787b86"/>
<rect x="1491" y="1086" width="4" height="34" fill="#787b86"/>
<rect x="1495" y="1086" width="4" height="34" fill="#787b86"/>
<rect x="1499" y="1086" width="4" height="34" fill="#787b86"/>
<rect x="1504" y="1086" width="4" height="68" fill="#f23645"/>
<rect x="1508" y="1086" width="4" height="68" fill="#f23645"/>
<rect x="1513" y="1086" width="4" height="68" fill="#f23645"/>
<rect x="1517" y="1086" width="4" height="68" fill="#f23645"/>
<rect x="1521" y="1086" width="4" height="68" fill="#f23645"/>
<rect x="1526" y="1086" width="4" height="68" fill="#f23645"/>
<rect x="1530" y="1086" width="4" height="68" fill="#f23645"/>
<rect x="1535" y="1086" width="4" height="68" fill="#f23645"/>
<rect x="1539" y="1086" width="4" height="68" fill="#f23645"/>
<rect x="1543" y="1086" width="4" height="68" fill="#f23645"/>
<rect x="1548" y="1086" width="4" height="68" fill="#f23645"/>
<rect x="1552" y="1086" width="4" height="68" fill="#f23645"/>
<rect x="1557" y="1086" width="4" height="68" fill="#f23645"/>
<rect x="1561" y="1051" width="4" height="35" fill="#787b86"/>
<rect x="1566" y="1051" width="4" height="35" fill="#787b86"/>
<rect x="1570" y="1051" width="4" height="35" fill="#787b86"/>
<rect x="1574" y="1051" width="4" height="35" fill="#787b86"/>
<rect x="1579" y="1051" width="4" height="35" fill="#787b86"/>
<rect x="1583" y="1051" width="4" height="35" fill="#787b86"/>
<rect x="1588" y="1051" width="4" height="35" fill="#787b86"/>
<rect x="1592" y="1051" width="4" height="35" fill="#787b86"/>
<rect x="1596" y="1051" width="4" height="35" fill="#787b86"/>
<rect x="1601" y="1051" width="4" height="35" fill="#787b86"/>
<rect x="1605" y="1051" width="4" height="35" fill="#787b86"/>
<rect x="1610" y="1051" width="4" height="35" fill="#787b86"/>
<rect x="1614" y="1017" width="4" height="69" fill="#4caf50"/>
<rect x="1618" y="1017" width="4" height="69" fill="#4caf50"/>
<rect x="1623" y="1017" width="4" height="69" fill="#4caf50"/>
<rect x="1627" y="1017" width="4" height="69" fill="#4caf50"/>
<rect x="1632" y="1017" width="4" height="69" fill="#4caf50"/>
<rect x="1636" y="1017" width="4" height="69" fill="#4caf50"/>
</g>
<path d="M12,1131 H53.3 L45,1152.9 H19.6 V1142.7 H12 Z" fill="#000000"/><path d="M14.2,1132.9 H29.2 V1151.3 H20.8 V1140.8 H14.2 Z" fill="#e8e8e8"/><path d="M41.7,1132.9 H50.2 L43.8,1151.3 H35 Z" fill="#e8e8e8"/><circle cx="34.6" cy="1136.7" r="3.1" fill="#e8e8e8"/>
<line x1="0" y1="777.5" x2="2073" y2="777.5" stroke="#3a3e48" stroke-width="1.2"/>
<line x1="0" y1="999.5" x2="2073" y2="999.5" stroke="#3a3e48" stroke-width="1.2"/>
<line x1="0" y1="1168.5" x2="2073" y2="1168.5" stroke="#8a8d95" stroke-width="1.2"/>
<line x1="2010.5" y1="0" x2="2010.5" y2="1201" stroke="#8a8d95" stroke-width="1.2"/>
<text x="2021.3" y="64.5" font-size="14" fill="#737680">26,00</text>
<text x="2021.3" y="116.3" font-size="14" fill="#737680">24,00</text>
<text x="2021.3" y="168.2" font-size="14" fill="#737680">22,00</text>
<text x="2021.3" y="220.1" font-size="14" fill="#737680">20,00</text>
<text x="2021.3" y="324.0" font-size="14" fill="#737680">16,00</text>
<text x="2021.3" y="375.8" font-size="14" fill="#737680">14,00</text>
<text x="2021.3" y="427.6" font-size="14" fill="#737680">12,00</text>
<text x="2021.3" y="479.5" font-size="14" fill="#737680">10,00</text>
<text x="2021.3" y="531.4" font-size="14" fill="#737680">8,00</text>
<text x="2021.3" y="583.3" font-size="14" fill="#737680">6,00</text>
<text x="2021.3" y="635.1" font-size="14" fill="#737680">4,00</text>
<text x="2021.3" y="687.0" font-size="14" fill="#737680">2,00</text>
<text x="2021.3" y="739.0" font-size="14" fill="#737680">0,0000</text>
<path d="M1968,252 H2010 V272.5 H1968 Q1966,272.5 1966,270.5 V254 Q1966,252 1968,252 Z" fill="#808080"/>
<text x="1988" y="267" font-size="13" fill="#ffffff" text-anchor="middle" font-weight="bold">CLMT</text>
<path d="M2011,252 H2068 Q2070,252 2070,254 V287.7 Q2070,289.7 2068,289.7 H2011 Z" fill="#808080"/>
<text x="2040" y="268" font-size="14" fill="#ffffff" text-anchor="middle">18,23</text>
<text x="2042" y="284.5" font-size="13.5" fill="#ffffff" text-anchor="middle">3d 13h</text>
<text x="2021.3" y="790.6" font-size="14" fill="#737680">100,00</text>
<text x="2021.3" y="871.3" font-size="14" fill="#737680">60,00</text>
<text x="2021.3" y="912.0" font-size="14" fill="#737680">40,00</text>
<text x="2021.3" y="993.5" font-size="14" fill="#737680">0,0000</text>
<path d="M2011,816.4 H2061 Q2063,816.4 2063,818.4 V834.4 Q2063,836.4 2061,836.4 H2011 Z" fill="#363a45"/>
<text x="2022" y="831.4" font-size="14" fill="#ffffff" font-weight="bold">80,00</text>
<path d="M2011,837.0 H2061 Q2063,837.0 2063,839.0 V856.0 Q2063,858.0 2061,858.0 H2011 Z" fill="#2962ff"/>
<text x="2022" y="852.5" font-size="14" fill="#ffffff" font-weight="bold">74,46</text>
<path d="M2011,877.4 H2061 Q2063,877.4 2063,879.4 V896.0 Q2063,898.0 2061,898.0 H2011 Z" fill="#363a45"/>
<text x="2022" y="892.7" font-size="14" fill="#ffffff" font-weight="bold">50,00</text>
<path d="M2011,938.0 H2061 Q2063,938.0 2063,940.0 V957.0 Q2063,959.0 2061,959.0 H2011 Z" fill="#363a45"/>
<text x="2022" y="953.5" font-size="14" fill="#ffffff" font-weight="bold">20,00</text>
<path d="M2011,1007 H2044.7 Q2046.7,1007 2046.7,1009 V1025.8 Q2046.7,1027.8 2044.7,1027.8 H2011 Z" fill="#4caf50"/>
<text x="2022" y="1022.5" font-size="14" fill="#ffffff" font-weight="bold">2,0</text>
<text x="2021.3" y="1089.0" font-size="14" fill="#737680">0,0000</text>
<text x="2021.3" y="1157.0" font-size="14" fill="#737680">&#8722;2,00</text>
<rect x="1919.3" y="1011" width="79.5" height="30.3" fill="#4caf50"/>
<rect x="1919.3" y="1041.3" width="79.5" height="28.7" fill="#787b86"/>
<rect x="1919.3" y="1070" width="79.5" height="29.8" fill="#f23645"/>
<text x="1948" y="1030" font-size="11.5" fill="#ffffff" text-anchor="middle">LONG</text>
<text x="1987.5" y="1031" font-size="15" fill="#ffffff" text-anchor="middle" font-weight="bold">6</text>
<text x="1949" y="1059" font-size="11.5" fill="#ffffff" text-anchor="middle" textLength="49" lengthAdjust="spacingAndGlyphs">NEUTRAL</text>
<text x="1987" y="1059.5" font-size="13" fill="#ffffff" text-anchor="middle" font-weight="bold">-</text>
<text x="1948.5" y="1088" font-size="11.5" fill="#ffffff" text-anchor="middle">SHORT</text>
<text x="1987" y="1088.5" font-size="13" fill="#ffffff" text-anchor="middle" font-weight="bold">-</text>
<text x="88.3" y="1190" font-size="15" fill="#787b86" text-anchor="middle" font-weight="bold">2019</text>
<text x="198.0" y="1190" font-size="15" fill="#787b86" text-anchor="middle">Lug</text>
<text x="317.0" y="1190" font-size="15" fill="#787b86" text-anchor="middle" font-weight="bold">2020</text>
<text x="431.5" y="1190" font-size="15" fill="#787b86" text-anchor="middle">Lug</text>
<text x="545.0" y="1190" font-size="15" fill="#787b86" text-anchor="middle" font-weight="bold">2021</text>
<text x="660.0" y="1190" font-size="15" fill="#787b86" text-anchor="middle">Lug</text>
<text x="775.0" y="1190" font-size="15" fill="#787b86" text-anchor="middle" font-weight="bold">2022</text>
<text x="889.0" y="1190" font-size="15" fill="#787b86" text-anchor="middle">Lug</text>
<text x="1004.0" y="1190" font-size="15" fill="#787b86" text-anchor="middle" font-weight="bold">2023</text>
<text x="1118.0" y="1190" font-size="15" fill="#787b86" text-anchor="middle">Lug</text>
<text x="1233.0" y="1190" font-size="15" fill="#787b86" text-anchor="middle" font-weight="bold">2024</text>
<text x="1347.0" y="1190" font-size="15" fill="#787b86" text-anchor="middle">Lug</text>
<text x="1466.0" y="1190" font-size="15" fill="#787b86" text-anchor="middle" font-weight="bold">2025</text>
<text x="1580.0" y="1190" font-size="15" fill="#787b86" text-anchor="middle">Lug</text>
<text x="1695.5" y="1190" font-size="15" fill="#787b86" text-anchor="middle" font-weight="bold">2026</text>
<text x="1809.0" y="1190" font-size="15" fill="#787b86" text-anchor="middle">Lug</text>
<text x="1924.0" y="1190" font-size="15" fill="#787b86" text-anchor="middle" font-weight="bold">2027</text>
<path d="M2034.2,1186 L2038.6,1178.3 H2047.4 L2051.8,1186 L2047.4,1193.7 H2038.6 Z" fill="none" stroke="#d1d4dc" stroke-width="1.3"/>
<circle cx="2043" cy="1186" r="2.6" fill="none" stroke="#d1d4dc" stroke-width="1.3"/>
<circle cx="21.3" cy="20" r="10.7" fill="#2d4bb3"/>
<ellipse cx="22" cy="20" rx="6.5" ry="3.6" fill="none" stroke="#ffffff" stroke-width="2"/>
<ellipse cx="22.5" cy="19.2" rx="3.2" ry="1.6" fill="#1a2f8a"/>
<text x="38" y="26.5" font-size="18.5" fill="#787b86" textLength="233" lengthAdjust="spacingAndGlyphs">Calumet, Inc <tspan font-size="13">&#8226;</tspan> 1W <tspan font-size="13">&#8226;</tspan> NASDAQ</text>
<path d="M291.5,9.5 H305 V30.8 H291.5 A10.65,10.65 0 0 1 291.5,9.5 Z" fill="#2a2e39"/>
<path d="M305,9.5 H318 A10.65,10.65 0 0 1 318,30.8 H305 Z" fill="#4a1730"/>
<rect x="288.5" y="18.3" width="11.5" height="4.2" rx="2.1" fill="#c8c9cc"/>
<text x="316.5" y="25.5" font-size="15" fill="#e0246a" text-anchor="middle" font-weight="bold">&#8776;</text>
<text x="337.5" y="26" font-size="15" fill="#6b6e78" textLength="60.5" lengthAdjust="spacingAndGlyphs">O - Aper.</text>
<text x="400.7" y="26" font-size="15" fill="#8e9098" textLength="36.3" lengthAdjust="spacingAndGlyphs">18,67</text>
<text x="446.2" y="26" font-size="15" fill="#6b6e78" textLength="57.3" lengthAdjust="spacingAndGlyphs">H - Max.</text>
<text x="506.0" y="26" font-size="15" fill="#8e9098" textLength="36.3" lengthAdjust="spacingAndGlyphs">18,93</text>
<text x="550.8" y="26" font-size="15" fill="#6b6e78" textLength="51.2" lengthAdjust="spacingAndGlyphs">L - Min.</text>
<text x="604.8" y="26" font-size="15" fill="#8e9098" textLength="36.4" lengthAdjust="spacingAndGlyphs">18,22</text>
<text x="650.0" y="26" font-size="15" fill="#6b6e78" textLength="66.5" lengthAdjust="spacingAndGlyphs">C - Chius.</text>
<text x="719.4" y="26" font-size="15" fill="#8e9098" textLength="36.5" lengthAdjust="spacingAndGlyphs">18,23</text>
<text x="763.3" y="26" font-size="15" fill="#8e9098" textLength="38.5" lengthAdjust="spacingAndGlyphs">&#8722;0,36</text>
<text x="807.8" y="26" font-size="15" fill="#8e9098" textLength="57.4" lengthAdjust="spacingAndGlyphs">(&#8722;1,94%)</text>
<rect x="10.7" y="39.5" width="63.7" height="39" rx="4" fill="#0c0c10" stroke="#e8353f" stroke-width="1.2"/>
<text x="42.5" y="56.8" font-size="13" fill="#f23645" text-anchor="middle" font-weight="bold">18,23</text>
<text x="42.5" y="71.5" font-size="12" fill="#f23645" text-anchor="middle">VENDI</text>
<text x="96" y="64" font-size="13.5" fill="#d1d4dc" text-anchor="middle" style="font-family:'Liberation Serif', serif">0,00</text>
<rect x="117.7" y="39.5" width="76.5" height="39" rx="4" fill="#0c0c10" stroke="#2962ff" stroke-width="1.2"/>
<text x="155.9" y="56.8" font-size="13" fill="#3a6dff" text-anchor="middle" font-weight="bold">18,23</text>
<text x="155.9" y="71.5" font-size="12" fill="#3a6dff" text-anchor="middle">COMPRA</text>
<rect x="10.7" y="89.8" width="36.6" height="22.5" rx="3.5" fill="none" stroke="#434651" stroke-width="1"/>
<polyline points="17.3,98.8 22,103.3 26.7,98.8" fill="none" stroke="#e0e0e0" stroke-width="1.5"/>
<text x="33.5" y="106.3" font-size="15" fill="#e0e3eb">7</text>
<rect x="1872.5" y="12.5" width="126.5" height="46" fill="#0038ff" stroke="#118a4a" stroke-width="1"/>
<line x1="1929" y1="12.5" x2="1929" y2="58.5" stroke="#0a1628" stroke-width="1.6"/>
<text x="1884.2" y="43" font-size="23.5" fill="#ffffff" stroke="#ffffff" stroke-width="0.6" textLength="31" lengthAdjust="spacingAndGlyphs">ETI</text>
<text x="1937.8" y="43" font-size="23.5" fill="#ffffff" stroke="#ffffff" stroke-width="0.6" textLength="46.7" lengthAdjust="spacingAndGlyphs">0.36</text>
<rect x="2015.5" y="6.5" width="53.5" height="29.5" rx="4" fill="#0c0c10" stroke="#2f323b" stroke-width="1"/>
<text x="2020" y="26.2" font-size="13" fill="#e8e2c8">USD</text>
<polyline points="2058,19 2061,22 2064,19" fill="none" stroke="#e8e2c8" stroke-width="1.5"/>
<rect x="1" y="1.2" width="2073" height="1198.8" rx="4" fill="none" stroke="#9a9ca2" stroke-width="2"/>
</svg>
</body></html>
